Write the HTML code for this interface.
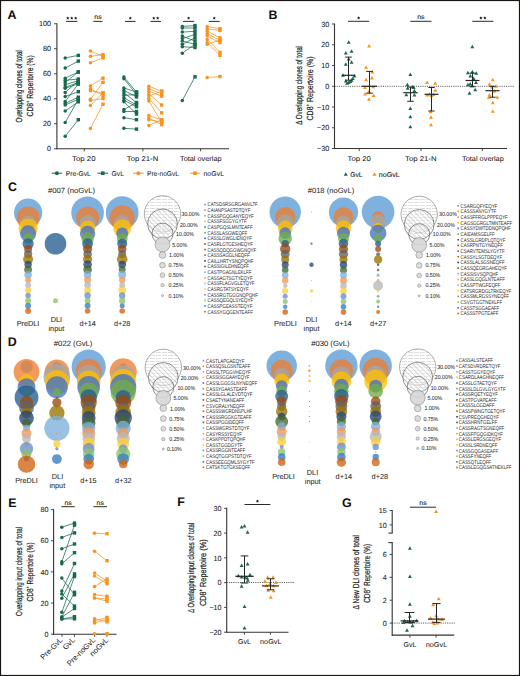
<!DOCTYPE html>
<html><head><meta charset="utf-8"><title>Figure</title>
<style>
html,body{margin:0;padding:0;background:#fff;}
body{width:520px;height:676px;overflow:hidden;}
svg{display:block;}
text{font-family:"Liberation Sans", sans-serif;text-rendering:geometricPrecision;}
</style></head><body>
<svg width="520" height="676" viewBox="0 0 520 676">
<defs>
<pattern id="hh" width="6" height="3" patternUnits="userSpaceOnUse"><rect width="6" height="3" fill="#fff"/><rect y="1.0" width="5" height="0.6" fill="#c8c8c8"/></pattern>
<pattern id="hh2" width="4.5" height="2.7" patternUnits="userSpaceOnUse"><rect y="1.0" width="3.6" height="0.5" fill="#d0d0d0"/></pattern>
<pattern id="hd" width="3.4" height="3" patternUnits="userSpaceOnUse" patternTransform="rotate(-45)"><rect width="3.4" height="3" fill="#fff" fill-opacity="0.45"/><rect width="0.5" height="3" fill="#b0b0b0"/></pattern>
</defs>
<rect x="0" y="0" width="520" height="676" fill="#fff"/>
<text x="7.6" y="18.8" font-size="12.4" font-weight="bold" textLength="8.95" lengthAdjust="spacingAndGlyphs" fill="#0d0d0d">A</text>
<text x="268.6" y="19.3" font-size="12.4" font-weight="bold" textLength="8.95" lengthAdjust="spacingAndGlyphs" fill="#0d0d0d">B</text>
<text x="7.9" y="191.1" font-size="12.4" font-weight="bold" textLength="8.95" lengthAdjust="spacingAndGlyphs" fill="#0d0d0d">C</text>
<text x="7.7" y="345.8" font-size="12.4" font-weight="bold" textLength="8.95" lengthAdjust="spacingAndGlyphs" fill="#0d0d0d">D</text>
<text x="8.2" y="506.8" font-size="12.4" font-weight="bold" textLength="8.27" lengthAdjust="spacingAndGlyphs" fill="#0d0d0d">E</text>
<text x="177.2" y="505.6" font-size="12.4" font-weight="bold" textLength="7.57" lengthAdjust="spacingAndGlyphs" fill="#0d0d0d">F</text>
<text x="341.9" y="506.6" font-size="12.4" font-weight="bold" textLength="9.65" lengthAdjust="spacingAndGlyphs" fill="#0d0d0d">G</text>
<line x1="56.9" y1="23.25" x2="56.9" y2="149.25" stroke="#333" stroke-width="1.1"/>
<line x1="56.4" y1="148.75" x2="229" y2="148.75" stroke="#333" stroke-width="1.1"/>
<line x1="54" y1="148.75" x2="56.9" y2="148.75" stroke="#333" stroke-width="0.9"/>
<text x="51" y="151.4" font-size="7.4" text-anchor="end" textLength="3.99" lengthAdjust="spacingAndGlyphs" fill="#1c1c1c" stroke="#1c1c1c" stroke-width="0.07">0</text>
<line x1="54" y1="123.75" x2="56.9" y2="123.75" stroke="#333" stroke-width="0.9"/>
<text x="51" y="126.4" font-size="7.4" text-anchor="end" textLength="7.98" lengthAdjust="spacingAndGlyphs" fill="#1c1c1c" stroke="#1c1c1c" stroke-width="0.07">20</text>
<line x1="54" y1="98.75" x2="56.9" y2="98.75" stroke="#333" stroke-width="0.9"/>
<text x="51" y="101.4" font-size="7.4" text-anchor="end" textLength="7.98" lengthAdjust="spacingAndGlyphs" fill="#1c1c1c" stroke="#1c1c1c" stroke-width="0.07">40</text>
<line x1="54" y1="73.75" x2="56.9" y2="73.75" stroke="#333" stroke-width="0.9"/>
<text x="51" y="76.4" font-size="7.4" text-anchor="end" textLength="7.98" lengthAdjust="spacingAndGlyphs" fill="#1c1c1c" stroke="#1c1c1c" stroke-width="0.07">60</text>
<line x1="54" y1="48.75" x2="56.9" y2="48.75" stroke="#333" stroke-width="0.9"/>
<text x="51" y="51.4" font-size="7.4" text-anchor="end" textLength="7.98" lengthAdjust="spacingAndGlyphs" fill="#1c1c1c" stroke="#1c1c1c" stroke-width="0.07">80</text>
<line x1="54" y1="23.75" x2="56.9" y2="23.75" stroke="#333" stroke-width="0.9"/>
<text x="51" y="26.4" font-size="7.4" text-anchor="end" textLength="11.98" lengthAdjust="spacingAndGlyphs" fill="#1c1c1c" stroke="#1c1c1c" stroke-width="0.07">100</text>
<line x1="84.3" y1="148.75" x2="84.3" y2="151.35" stroke="#333" stroke-width="0.9"/>
<line x1="142.9" y1="148.75" x2="142.9" y2="151.35" stroke="#333" stroke-width="0.9"/>
<line x1="200.6" y1="148.75" x2="200.6" y2="151.35" stroke="#333" stroke-width="0.9"/>
<text x="83.8" y="161" font-size="7" text-anchor="middle" textLength="23.6" lengthAdjust="spacingAndGlyphs" fill="#1c1c1c" stroke="#1c1c1c" stroke-width="0.05">Top 20</text>
<text x="142.5" y="161" font-size="7" text-anchor="middle" textLength="31.5" lengthAdjust="spacingAndGlyphs" fill="#1c1c1c" stroke="#1c1c1c" stroke-width="0.05">Top 21-N</text>
<text x="200.8" y="161" font-size="7" text-anchor="middle" textLength="41.6" lengthAdjust="spacingAndGlyphs" fill="#1c1c1c" stroke="#1c1c1c" stroke-width="0.05">Total overlap</text>
<text x="21.7" y="86.4" font-size="8.8" text-anchor="middle" textLength="72.4" lengthAdjust="spacingAndGlyphs" transform="rotate(-90 21.7 86.4)" fill="#1c1c1c" stroke="#1c1c1c" stroke-width="0.2">Overlapping clones of total</text>
<text x="32.8" y="85.85" font-size="8.8" text-anchor="middle" textLength="61.1" lengthAdjust="spacingAndGlyphs" transform="rotate(-90 32.8 85.85)" fill="#1c1c1c" stroke="#1c1c1c" stroke-width="0.2">CD8⁺ Repertoire (%)</text>
<line x1="66.1" y1="21.4" x2="77.4" y2="21.4" stroke="#2a2a2a" stroke-width="1"/>
<polygon points="67.8,16.4 68.3,17.41 69.42,17.57 68.61,18.36 68.8,19.48 67.8,18.95 66.8,19.48 66.99,18.36 66.18,17.57 67.3,17.41" fill="#1a1a1a"/>
<polygon points="71.75,16.4 72.25,17.41 73.37,17.57 72.56,18.36 72.75,19.48 71.75,18.95 70.75,19.48 70.94,18.36 70.13,17.57 71.25,17.41" fill="#1a1a1a"/>
<polygon points="75.7,16.4 76.2,17.41 77.32,17.57 76.51,18.36 76.7,19.48 75.7,18.95 74.7,19.48 74.89,18.36 74.08,17.57 75.2,17.41" fill="#1a1a1a"/>
<line x1="93.4" y1="21.4" x2="102.5" y2="21.4" stroke="#2a2a2a" stroke-width="1"/>
<text x="97.95" y="19.4" font-size="6.6" text-anchor="middle" textLength="7.4" lengthAdjust="spacingAndGlyphs" fill="#1c1c1c" stroke="#1c1c1c" stroke-width="0.1">ns</text>
<line x1="125" y1="21.4" x2="135.5" y2="21.4" stroke="#2a2a2a" stroke-width="1"/>
<polygon points="130.25,16.4 130.75,17.41 131.87,17.57 131.06,18.36 131.25,19.48 130.25,18.95 129.25,19.48 129.44,18.36 128.63,17.57 129.75,17.41" fill="#1a1a1a"/>
<line x1="150.5" y1="21.4" x2="161" y2="21.4" stroke="#2a2a2a" stroke-width="1"/>
<polygon points="153.78,16.4 154.27,17.41 155.39,17.57 154.58,18.36 154.77,19.48 153.78,18.95 152.78,19.48 152.97,18.36 152.16,17.57 153.28,17.41" fill="#1a1a1a"/>
<polygon points="157.72,16.4 158.22,17.41 159.34,17.57 158.53,18.36 158.72,19.48 157.72,18.95 156.73,19.48 156.92,18.36 156.11,17.57 157.23,17.41" fill="#1a1a1a"/>
<line x1="183" y1="21.4" x2="194.2" y2="21.4" stroke="#2a2a2a" stroke-width="1"/>
<polygon points="188.6,16.4 189.1,17.41 190.22,17.57 189.41,18.36 189.6,19.48 188.6,18.95 187.6,19.48 187.79,18.36 186.98,17.57 188.1,17.41" fill="#1a1a1a"/>
<line x1="208.8" y1="21.4" x2="219.7" y2="21.4" stroke="#2a2a2a" stroke-width="1"/>
<polygon points="214.25,16.4 214.75,17.41 215.87,17.57 215.06,18.36 215.25,19.48 214.25,18.95 213.25,19.48 213.44,18.36 212.63,17.57 213.75,17.41" fill="#1a1a1a"/>
<line x1="65.2" y1="57.9" x2="78.3" y2="55.4" stroke="#17694f" stroke-width="0.75"/>
<line x1="65.2" y1="68.1" x2="78.3" y2="61.1" stroke="#17694f" stroke-width="0.75"/>
<line x1="65.2" y1="78.2" x2="78.3" y2="72" stroke="#17694f" stroke-width="0.75"/>
<line x1="65.2" y1="80.3" x2="78.3" y2="79" stroke="#17694f" stroke-width="0.75"/>
<line x1="65.2" y1="82.6" x2="78.3" y2="72" stroke="#17694f" stroke-width="0.75"/>
<line x1="65.2" y1="84.7" x2="78.3" y2="80.7" stroke="#17694f" stroke-width="0.75"/>
<line x1="65.2" y1="87.2" x2="78.3" y2="82.6" stroke="#17694f" stroke-width="0.75"/>
<line x1="65.2" y1="88.3" x2="78.3" y2="83.9" stroke="#17694f" stroke-width="0.75"/>
<line x1="65.2" y1="92.4" x2="78.3" y2="80.7" stroke="#17694f" stroke-width="0.75"/>
<line x1="65.2" y1="96.6" x2="78.3" y2="91.7" stroke="#17694f" stroke-width="0.75"/>
<line x1="65.2" y1="101.5" x2="78.3" y2="83.9" stroke="#17694f" stroke-width="0.75"/>
<line x1="65.2" y1="103.4" x2="78.3" y2="97.2" stroke="#17694f" stroke-width="0.75"/>
<line x1="65.2" y1="105" x2="78.3" y2="99.3" stroke="#17694f" stroke-width="0.75"/>
<line x1="65.2" y1="111" x2="78.3" y2="101.8" stroke="#17694f" stroke-width="0.75"/>
<line x1="65.2" y1="122.6" x2="78.3" y2="99.3" stroke="#17694f" stroke-width="0.75"/>
<line x1="65.2" y1="136.3" x2="78.3" y2="119.7" stroke="#17694f" stroke-width="0.75"/>
<circle cx="65.2" cy="57.9" r="1.75" fill="#17694f"/>
<rect x="76.6" y="53.7" width="3.4" height="3.4" fill="#17694f"/>
<circle cx="65.2" cy="68.1" r="1.75" fill="#17694f"/>
<rect x="76.6" y="59.4" width="3.4" height="3.4" fill="#17694f"/>
<circle cx="65.2" cy="78.2" r="1.75" fill="#17694f"/>
<rect x="76.6" y="70.3" width="3.4" height="3.4" fill="#17694f"/>
<circle cx="65.2" cy="80.3" r="1.75" fill="#17694f"/>
<rect x="76.6" y="77.3" width="3.4" height="3.4" fill="#17694f"/>
<circle cx="65.2" cy="82.6" r="1.75" fill="#17694f"/>
<rect x="76.6" y="70.3" width="3.4" height="3.4" fill="#17694f"/>
<circle cx="65.2" cy="84.7" r="1.75" fill="#17694f"/>
<rect x="76.6" y="79" width="3.4" height="3.4" fill="#17694f"/>
<circle cx="65.2" cy="87.2" r="1.75" fill="#17694f"/>
<rect x="76.6" y="80.9" width="3.4" height="3.4" fill="#17694f"/>
<circle cx="65.2" cy="88.3" r="1.75" fill="#17694f"/>
<rect x="76.6" y="82.2" width="3.4" height="3.4" fill="#17694f"/>
<circle cx="65.2" cy="92.4" r="1.75" fill="#17694f"/>
<rect x="76.6" y="79" width="3.4" height="3.4" fill="#17694f"/>
<circle cx="65.2" cy="96.6" r="1.75" fill="#17694f"/>
<rect x="76.6" y="90" width="3.4" height="3.4" fill="#17694f"/>
<circle cx="65.2" cy="101.5" r="1.75" fill="#17694f"/>
<rect x="76.6" y="82.2" width="3.4" height="3.4" fill="#17694f"/>
<circle cx="65.2" cy="103.4" r="1.75" fill="#17694f"/>
<rect x="76.6" y="95.5" width="3.4" height="3.4" fill="#17694f"/>
<circle cx="65.2" cy="105" r="1.75" fill="#17694f"/>
<rect x="76.6" y="97.6" width="3.4" height="3.4" fill="#17694f"/>
<circle cx="65.2" cy="111" r="1.75" fill="#17694f"/>
<rect x="76.6" y="100.1" width="3.4" height="3.4" fill="#17694f"/>
<circle cx="65.2" cy="122.6" r="1.75" fill="#17694f"/>
<rect x="76.6" y="97.6" width="3.4" height="3.4" fill="#17694f"/>
<circle cx="65.2" cy="136.3" r="1.75" fill="#17694f"/>
<rect x="76.6" y="118" width="3.4" height="3.4" fill="#17694f"/>
<line x1="90.4" y1="51.1" x2="103" y2="56.3" stroke="#f7931e" stroke-width="0.75"/>
<line x1="90.4" y1="56.3" x2="103" y2="54.6" stroke="#f7931e" stroke-width="0.75"/>
<line x1="90.4" y1="62.8" x2="103" y2="57.9" stroke="#f7931e" stroke-width="0.75"/>
<line x1="90.4" y1="85.9" x2="103" y2="78.2" stroke="#f7931e" stroke-width="0.75"/>
<line x1="90.4" y1="88.8" x2="103" y2="95.3" stroke="#f7931e" stroke-width="0.75"/>
<line x1="90.4" y1="90.7" x2="103" y2="92.8" stroke="#f7931e" stroke-width="0.75"/>
<line x1="90.4" y1="99.3" x2="103" y2="82.3" stroke="#f7931e" stroke-width="0.75"/>
<line x1="90.4" y1="100.5" x2="103" y2="98.5" stroke="#f7931e" stroke-width="0.75"/>
<line x1="90.4" y1="105.4" x2="103" y2="92.8" stroke="#f7931e" stroke-width="0.75"/>
<line x1="90.4" y1="128.6" x2="103" y2="104.2" stroke="#f7931e" stroke-width="0.75"/>
<circle cx="90.4" cy="51.1" r="1.75" fill="#f7931e"/>
<rect x="101.3" y="54.6" width="3.4" height="3.4" fill="#f7931e"/>
<circle cx="90.4" cy="56.3" r="1.75" fill="#f7931e"/>
<rect x="101.3" y="52.9" width="3.4" height="3.4" fill="#f7931e"/>
<circle cx="90.4" cy="62.8" r="1.75" fill="#f7931e"/>
<rect x="101.3" y="56.2" width="3.4" height="3.4" fill="#f7931e"/>
<circle cx="90.4" cy="85.9" r="1.75" fill="#f7931e"/>
<rect x="101.3" y="76.5" width="3.4" height="3.4" fill="#f7931e"/>
<circle cx="90.4" cy="88.8" r="1.75" fill="#f7931e"/>
<rect x="101.3" y="93.6" width="3.4" height="3.4" fill="#f7931e"/>
<circle cx="90.4" cy="90.7" r="1.75" fill="#f7931e"/>
<rect x="101.3" y="91.1" width="3.4" height="3.4" fill="#f7931e"/>
<circle cx="90.4" cy="99.3" r="1.75" fill="#f7931e"/>
<rect x="101.3" y="80.6" width="3.4" height="3.4" fill="#f7931e"/>
<circle cx="90.4" cy="100.5" r="1.75" fill="#f7931e"/>
<rect x="101.3" y="96.8" width="3.4" height="3.4" fill="#f7931e"/>
<circle cx="90.4" cy="105.4" r="1.75" fill="#f7931e"/>
<rect x="101.3" y="91.1" width="3.4" height="3.4" fill="#f7931e"/>
<circle cx="90.4" cy="128.6" r="1.75" fill="#f7931e"/>
<rect x="101.3" y="102.5" width="3.4" height="3.4" fill="#f7931e"/>
<line x1="123.9" y1="77.1" x2="136.5" y2="92" stroke="#17694f" stroke-width="0.75"/>
<line x1="123.9" y1="78.7" x2="136.5" y2="94.5" stroke="#17694f" stroke-width="0.75"/>
<line x1="123.9" y1="88" x2="136.5" y2="92" stroke="#17694f" stroke-width="0.75"/>
<line x1="123.9" y1="90.4" x2="136.5" y2="96.9" stroke="#17694f" stroke-width="0.75"/>
<line x1="123.9" y1="92.8" x2="136.5" y2="102.6" stroke="#17694f" stroke-width="0.75"/>
<line x1="123.9" y1="95.3" x2="136.5" y2="94.5" stroke="#17694f" stroke-width="0.75"/>
<line x1="123.9" y1="97.7" x2="136.5" y2="105" stroke="#17694f" stroke-width="0.75"/>
<line x1="123.9" y1="100.2" x2="136.5" y2="106.7" stroke="#17694f" stroke-width="0.75"/>
<line x1="123.9" y1="101.8" x2="136.5" y2="114" stroke="#17694f" stroke-width="0.75"/>
<line x1="123.9" y1="109.6" x2="136.5" y2="102.6" stroke="#17694f" stroke-width="0.75"/>
<line x1="123.9" y1="111.5" x2="136.5" y2="111.5" stroke="#17694f" stroke-width="0.75"/>
<line x1="123.9" y1="117.7" x2="136.5" y2="119.7" stroke="#17694f" stroke-width="0.75"/>
<line x1="123.9" y1="128.3" x2="136.5" y2="129.1" stroke="#17694f" stroke-width="0.75"/>
<circle cx="123.9" cy="77.1" r="1.75" fill="#17694f"/>
<rect x="134.8" y="90.3" width="3.4" height="3.4" fill="#17694f"/>
<circle cx="123.9" cy="78.7" r="1.75" fill="#17694f"/>
<rect x="134.8" y="92.8" width="3.4" height="3.4" fill="#17694f"/>
<circle cx="123.9" cy="88" r="1.75" fill="#17694f"/>
<rect x="134.8" y="90.3" width="3.4" height="3.4" fill="#17694f"/>
<circle cx="123.9" cy="90.4" r="1.75" fill="#17694f"/>
<rect x="134.8" y="95.2" width="3.4" height="3.4" fill="#17694f"/>
<circle cx="123.9" cy="92.8" r="1.75" fill="#17694f"/>
<rect x="134.8" y="100.9" width="3.4" height="3.4" fill="#17694f"/>
<circle cx="123.9" cy="95.3" r="1.75" fill="#17694f"/>
<rect x="134.8" y="92.8" width="3.4" height="3.4" fill="#17694f"/>
<circle cx="123.9" cy="97.7" r="1.75" fill="#17694f"/>
<rect x="134.8" y="103.3" width="3.4" height="3.4" fill="#17694f"/>
<circle cx="123.9" cy="100.2" r="1.75" fill="#17694f"/>
<rect x="134.8" y="105" width="3.4" height="3.4" fill="#17694f"/>
<circle cx="123.9" cy="101.8" r="1.75" fill="#17694f"/>
<rect x="134.8" y="112.3" width="3.4" height="3.4" fill="#17694f"/>
<circle cx="123.9" cy="109.6" r="1.75" fill="#17694f"/>
<rect x="134.8" y="100.9" width="3.4" height="3.4" fill="#17694f"/>
<circle cx="123.9" cy="111.5" r="1.75" fill="#17694f"/>
<rect x="134.8" y="109.8" width="3.4" height="3.4" fill="#17694f"/>
<circle cx="123.9" cy="117.7" r="1.75" fill="#17694f"/>
<rect x="134.8" y="118" width="3.4" height="3.4" fill="#17694f"/>
<circle cx="123.9" cy="128.3" r="1.75" fill="#17694f"/>
<rect x="134.8" y="127.4" width="3.4" height="3.4" fill="#17694f"/>
<line x1="148.8" y1="86.3" x2="161.7" y2="91.2" stroke="#f7931e" stroke-width="0.75"/>
<line x1="148.8" y1="88.8" x2="161.7" y2="93.7" stroke="#f7931e" stroke-width="0.75"/>
<line x1="148.8" y1="91.2" x2="161.7" y2="96.1" stroke="#f7931e" stroke-width="0.75"/>
<line x1="148.8" y1="93.7" x2="161.7" y2="105" stroke="#f7931e" stroke-width="0.75"/>
<line x1="148.8" y1="96.1" x2="161.7" y2="91.2" stroke="#f7931e" stroke-width="0.75"/>
<line x1="148.8" y1="98.5" x2="161.7" y2="112.8" stroke="#f7931e" stroke-width="0.75"/>
<line x1="148.8" y1="101" x2="161.7" y2="122.1" stroke="#f7931e" stroke-width="0.75"/>
<line x1="148.8" y1="115.6" x2="161.7" y2="119.7" stroke="#f7931e" stroke-width="0.75"/>
<line x1="148.8" y1="118" x2="161.7" y2="124.6" stroke="#f7931e" stroke-width="0.75"/>
<line x1="148.8" y1="119.7" x2="161.7" y2="122.1" stroke="#f7931e" stroke-width="0.75"/>
<line x1="148.8" y1="125.4" x2="161.7" y2="119.7" stroke="#f7931e" stroke-width="0.75"/>
<circle cx="148.8" cy="86.3" r="1.75" fill="#f7931e"/>
<rect x="160" y="89.5" width="3.4" height="3.4" fill="#f7931e"/>
<circle cx="148.8" cy="88.8" r="1.75" fill="#f7931e"/>
<rect x="160" y="92" width="3.4" height="3.4" fill="#f7931e"/>
<circle cx="148.8" cy="91.2" r="1.75" fill="#f7931e"/>
<rect x="160" y="94.4" width="3.4" height="3.4" fill="#f7931e"/>
<circle cx="148.8" cy="93.7" r="1.75" fill="#f7931e"/>
<rect x="160" y="103.3" width="3.4" height="3.4" fill="#f7931e"/>
<circle cx="148.8" cy="96.1" r="1.75" fill="#f7931e"/>
<rect x="160" y="89.5" width="3.4" height="3.4" fill="#f7931e"/>
<circle cx="148.8" cy="98.5" r="1.75" fill="#f7931e"/>
<rect x="160" y="111.1" width="3.4" height="3.4" fill="#f7931e"/>
<circle cx="148.8" cy="101" r="1.75" fill="#f7931e"/>
<rect x="160" y="120.4" width="3.4" height="3.4" fill="#f7931e"/>
<circle cx="148.8" cy="115.6" r="1.75" fill="#f7931e"/>
<rect x="160" y="118" width="3.4" height="3.4" fill="#f7931e"/>
<circle cx="148.8" cy="118" r="1.75" fill="#f7931e"/>
<rect x="160" y="122.9" width="3.4" height="3.4" fill="#f7931e"/>
<circle cx="148.8" cy="119.7" r="1.75" fill="#f7931e"/>
<rect x="160" y="120.4" width="3.4" height="3.4" fill="#f7931e"/>
<circle cx="148.8" cy="125.4" r="1.75" fill="#f7931e"/>
<rect x="160" y="118" width="3.4" height="3.4" fill="#f7931e"/>
<line x1="182.3" y1="26.4" x2="195" y2="25.6" stroke="#17694f" stroke-width="0.75"/>
<line x1="182.3" y1="28" x2="195" y2="28" stroke="#17694f" stroke-width="0.75"/>
<line x1="182.3" y1="32.1" x2="195" y2="31.3" stroke="#17694f" stroke-width="0.75"/>
<line x1="182.3" y1="36.1" x2="195" y2="41" stroke="#17694f" stroke-width="0.75"/>
<line x1="182.3" y1="38.6" x2="195" y2="34.5" stroke="#17694f" stroke-width="0.75"/>
<line x1="182.3" y1="41" x2="195" y2="44.3" stroke="#17694f" stroke-width="0.75"/>
<line x1="182.3" y1="44.3" x2="195" y2="37.8" stroke="#17694f" stroke-width="0.75"/>
<line x1="182.3" y1="46.7" x2="195" y2="47.5" stroke="#17694f" stroke-width="0.75"/>
<line x1="182.3" y1="53.2" x2="195" y2="44.3" stroke="#17694f" stroke-width="0.75"/>
<line x1="182.3" y1="100.4" x2="195" y2="76.8" stroke="#17694f" stroke-width="0.75"/>
<circle cx="182.3" cy="26.4" r="1.75" fill="#17694f"/>
<rect x="193.3" y="23.9" width="3.4" height="3.4" fill="#17694f"/>
<circle cx="182.3" cy="28" r="1.75" fill="#17694f"/>
<rect x="193.3" y="26.3" width="3.4" height="3.4" fill="#17694f"/>
<circle cx="182.3" cy="32.1" r="1.75" fill="#17694f"/>
<rect x="193.3" y="29.6" width="3.4" height="3.4" fill="#17694f"/>
<circle cx="182.3" cy="36.1" r="1.75" fill="#17694f"/>
<rect x="193.3" y="39.3" width="3.4" height="3.4" fill="#17694f"/>
<circle cx="182.3" cy="38.6" r="1.75" fill="#17694f"/>
<rect x="193.3" y="32.8" width="3.4" height="3.4" fill="#17694f"/>
<circle cx="182.3" cy="41" r="1.75" fill="#17694f"/>
<rect x="193.3" y="42.6" width="3.4" height="3.4" fill="#17694f"/>
<circle cx="182.3" cy="44.3" r="1.75" fill="#17694f"/>
<rect x="193.3" y="36.1" width="3.4" height="3.4" fill="#17694f"/>
<circle cx="182.3" cy="46.7" r="1.75" fill="#17694f"/>
<rect x="193.3" y="45.8" width="3.4" height="3.4" fill="#17694f"/>
<circle cx="182.3" cy="53.2" r="1.75" fill="#17694f"/>
<rect x="193.3" y="42.6" width="3.4" height="3.4" fill="#17694f"/>
<circle cx="182.3" cy="100.4" r="1.75" fill="#17694f"/>
<rect x="193.3" y="75.1" width="3.4" height="3.4" fill="#17694f"/>
<line x1="207.2" y1="26.4" x2="220" y2="28.8" stroke="#f7931e" stroke-width="0.75"/>
<line x1="207.2" y1="28.8" x2="220" y2="30.4" stroke="#f7931e" stroke-width="0.75"/>
<line x1="207.2" y1="31.3" x2="220" y2="37.8" stroke="#f7931e" stroke-width="0.75"/>
<line x1="207.2" y1="33.7" x2="220" y2="40.2" stroke="#f7931e" stroke-width="0.75"/>
<line x1="207.2" y1="36.1" x2="220" y2="42.6" stroke="#f7931e" stroke-width="0.75"/>
<line x1="207.2" y1="39.4" x2="220" y2="52.4" stroke="#f7931e" stroke-width="0.75"/>
<line x1="207.2" y1="42.6" x2="220" y2="55.3" stroke="#f7931e" stroke-width="0.75"/>
<line x1="207.2" y1="44.3" x2="220" y2="40.2" stroke="#f7931e" stroke-width="0.75"/>
<line x1="207.2" y1="77.6" x2="220" y2="76.5" stroke="#f7931e" stroke-width="0.75"/>
<circle cx="207.2" cy="26.4" r="1.75" fill="#f7931e"/>
<rect x="218.3" y="27.1" width="3.4" height="3.4" fill="#f7931e"/>
<circle cx="207.2" cy="28.8" r="1.75" fill="#f7931e"/>
<rect x="218.3" y="28.7" width="3.4" height="3.4" fill="#f7931e"/>
<circle cx="207.2" cy="31.3" r="1.75" fill="#f7931e"/>
<rect x="218.3" y="36.1" width="3.4" height="3.4" fill="#f7931e"/>
<circle cx="207.2" cy="33.7" r="1.75" fill="#f7931e"/>
<rect x="218.3" y="38.5" width="3.4" height="3.4" fill="#f7931e"/>
<circle cx="207.2" cy="36.1" r="1.75" fill="#f7931e"/>
<rect x="218.3" y="40.9" width="3.4" height="3.4" fill="#f7931e"/>
<circle cx="207.2" cy="39.4" r="1.75" fill="#f7931e"/>
<rect x="218.3" y="50.7" width="3.4" height="3.4" fill="#f7931e"/>
<circle cx="207.2" cy="42.6" r="1.75" fill="#f7931e"/>
<rect x="218.3" y="53.6" width="3.4" height="3.4" fill="#f7931e"/>
<circle cx="207.2" cy="44.3" r="1.75" fill="#f7931e"/>
<rect x="218.3" y="38.5" width="3.4" height="3.4" fill="#f7931e"/>
<circle cx="207.2" cy="77.6" r="1.75" fill="#f7931e"/>
<rect x="218.3" y="74.8" width="3.4" height="3.4" fill="#f7931e"/>
<line x1="51.6" y1="173.2" x2="62.2" y2="173.2" stroke="#17694f" stroke-width="1"/>
<circle cx="56.9" cy="173.2" r="1.95" fill="#17694f"/>
<text x="65.8" y="175.7" font-size="7" textLength="25" lengthAdjust="spacingAndGlyphs" fill="#1c1c1c" stroke="#1c1c1c" stroke-width="0.04">Pre-GvL</text>
<line x1="97.5" y1="173.2" x2="108" y2="173.2" stroke="#17694f" stroke-width="1"/>
<rect x="100.95" y="171.4" width="3.6" height="3.6" fill="#17694f"/>
<text x="111.5" y="175.7" font-size="7" textLength="12.5" lengthAdjust="spacingAndGlyphs" fill="#1c1c1c" stroke="#1c1c1c" stroke-width="0.04">GvL</text>
<line x1="133" y1="173.2" x2="143.7" y2="173.2" stroke="#f7931e" stroke-width="1"/>
<circle cx="138.35" cy="173.2" r="1.95" fill="#f7931e"/>
<text x="147" y="175.7" font-size="7" textLength="32" lengthAdjust="spacingAndGlyphs" fill="#1c1c1c" stroke="#1c1c1c" stroke-width="0.04">Pre-noGvL</text>
<line x1="190" y1="173.2" x2="200" y2="173.2" stroke="#f7931e" stroke-width="1"/>
<rect x="193.2" y="171.4" width="3.6" height="3.6" fill="#f7931e"/>
<text x="203.5" y="175.7" font-size="7" textLength="20.5" lengthAdjust="spacingAndGlyphs" fill="#1c1c1c" stroke="#1c1c1c" stroke-width="0.04">noGvL</text>
<line x1="334.5" y1="23.5" x2="334.5" y2="149" stroke="#333" stroke-width="1.1"/>
<line x1="334" y1="148.5" x2="507" y2="148.5" stroke="#333" stroke-width="1.1"/>
<line x1="332" y1="24" x2="334.5" y2="24" stroke="#333" stroke-width="0.9"/>
<text x="329.3" y="26.65" font-size="7.4" text-anchor="end" textLength="7.98" lengthAdjust="spacingAndGlyphs" fill="#1c1c1c" stroke="#1c1c1c" stroke-width="0.07">30</text>
<line x1="332" y1="44.75" x2="334.5" y2="44.75" stroke="#333" stroke-width="0.9"/>
<text x="329.3" y="47.4" font-size="7.4" text-anchor="end" textLength="7.98" lengthAdjust="spacingAndGlyphs" fill="#1c1c1c" stroke="#1c1c1c" stroke-width="0.07">20</text>
<line x1="332" y1="65.5" x2="334.5" y2="65.5" stroke="#333" stroke-width="0.9"/>
<text x="329.3" y="68.15" font-size="7.4" text-anchor="end" textLength="7.98" lengthAdjust="spacingAndGlyphs" fill="#1c1c1c" stroke="#1c1c1c" stroke-width="0.07">10</text>
<line x1="332" y1="86.25" x2="334.5" y2="86.25" stroke="#333" stroke-width="0.9"/>
<text x="329.3" y="88.9" font-size="7.4" text-anchor="end" textLength="3.99" lengthAdjust="spacingAndGlyphs" fill="#1c1c1c" stroke="#1c1c1c" stroke-width="0.07">0</text>
<line x1="332" y1="107" x2="334.5" y2="107" stroke="#333" stroke-width="0.9"/>
<text x="329.3" y="109.65" font-size="7.4" text-anchor="end" textLength="12.18" lengthAdjust="spacingAndGlyphs" fill="#1c1c1c" stroke="#1c1c1c" stroke-width="0.07">−10</text>
<line x1="332" y1="127.75" x2="334.5" y2="127.75" stroke="#333" stroke-width="0.9"/>
<text x="329.3" y="130.4" font-size="7.4" text-anchor="end" textLength="12.18" lengthAdjust="spacingAndGlyphs" fill="#1c1c1c" stroke="#1c1c1c" stroke-width="0.07">−20</text>
<line x1="332" y1="148.5" x2="334.5" y2="148.5" stroke="#333" stroke-width="0.9"/>
<text x="329.3" y="151.15" font-size="7.4" text-anchor="end" textLength="12.18" lengthAdjust="spacingAndGlyphs" fill="#1c1c1c" stroke="#1c1c1c" stroke-width="0.07">−30</text>
<line x1="359.2" y1="148.5" x2="359.2" y2="151.1" stroke="#333" stroke-width="0.9"/>
<line x1="421" y1="148.5" x2="421" y2="151.1" stroke="#333" stroke-width="0.9"/>
<line x1="482.3" y1="148.5" x2="482.3" y2="151.1" stroke="#333" stroke-width="0.9"/>
<text x="359.2" y="160.8" font-size="7" text-anchor="middle" textLength="23.3" lengthAdjust="spacingAndGlyphs" fill="#1c1c1c" stroke="#1c1c1c" stroke-width="0.05">Top 20</text>
<text x="420.8" y="160.8" font-size="7" text-anchor="middle" textLength="31.5" lengthAdjust="spacingAndGlyphs" fill="#1c1c1c" stroke="#1c1c1c" stroke-width="0.05">Top 21-N</text>
<text x="482.9" y="160.8" font-size="7" text-anchor="middle" textLength="41.8" lengthAdjust="spacingAndGlyphs" fill="#1c1c1c" stroke="#1c1c1c" stroke-width="0.05">Total overlap</text>
<line x1="334.5" y1="86.3" x2="514" y2="86.3" stroke="#333" stroke-width="0.8" stroke-dasharray="1.1 1.1"/>
<text x="301.7" y="85.35" font-size="8.8" text-anchor="middle" textLength="78.7" lengthAdjust="spacingAndGlyphs" transform="rotate(-90 301.7 85.35)" fill="#1c1c1c" stroke="#1c1c1c" stroke-width="0.2">Δ Overlapping clones of total</text>
<text x="312.8" y="88.45" font-size="8.8" text-anchor="middle" textLength="64.1" lengthAdjust="spacingAndGlyphs" transform="rotate(-90 312.8 88.45)" fill="#1c1c1c" stroke="#1c1c1c" stroke-width="0.2">CD8⁺ Repertoire (%)</text>
<line x1="348" y1="21.3" x2="369.25" y2="21.3" stroke="#2a2a2a" stroke-width="1"/>
<polygon points="358.62,16.3 359.12,17.31 360.24,17.47 359.43,18.26 359.62,19.38 358.62,18.85 357.63,19.38 357.82,18.26 357.01,17.47 358.13,17.31" fill="#1a1a1a"/>
<line x1="410.3" y1="21.3" x2="431.5" y2="21.3" stroke="#2a2a2a" stroke-width="1"/>
<text x="420.9" y="19.3" font-size="6.6" text-anchor="middle" textLength="7.4" lengthAdjust="spacingAndGlyphs" fill="#1c1c1c" stroke="#1c1c1c" stroke-width="0.1">ns</text>
<line x1="472.3" y1="21.3" x2="493.4" y2="21.3" stroke="#2a2a2a" stroke-width="1"/>
<polygon points="480.88,16.3 481.37,17.31 482.49,17.47 481.68,18.26 481.87,19.38 480.88,18.85 479.88,19.38 480.07,18.26 479.26,17.47 480.38,17.31" fill="#1a1a1a"/>
<polygon points="484.83,16.3 485.32,17.31 486.44,17.47 485.63,18.26 485.82,19.38 484.83,18.85 483.83,19.38 484.02,18.26 483.21,17.47 484.33,17.31" fill="#1a1a1a"/>
<path d="M348.7 40.36L350.65 43.87L346.75 43.87Z" fill="#17694f"/>
<path d="M345.8 50.96L347.75 54.47L343.85 54.47Z" fill="#17694f"/>
<path d="M351.6 49.36L353.55 52.87L349.65 52.87Z" fill="#17694f"/>
<path d="M348.7 56.96L350.65 60.47L346.75 60.47Z" fill="#17694f"/>
<path d="M345.8 62.16L347.75 65.67L343.85 65.67Z" fill="#17694f"/>
<path d="M351.6 60.26L353.55 63.77L349.65 63.77Z" fill="#17694f"/>
<path d="M343 73.26L344.95 76.77L341.05 76.77Z" fill="#17694f"/>
<path d="M354.4 74.06L356.35 77.57L352.45 77.57Z" fill="#17694f"/>
<path d="M345.8 78.96L347.75 82.47L343.85 82.47Z" fill="#17694f"/>
<path d="M351.6 78.16L353.55 81.67L349.65 81.67Z" fill="#17694f"/>
<path d="M348.7 80.56L350.65 84.07L346.75 84.07Z" fill="#17694f"/>
<path d="M347 81.36L348.95 84.87L345.05 84.87Z" fill="#17694f"/>
<path d="M350.3 79.46L352.25 82.97L348.35 82.97Z" fill="#17694f"/>
<path d="M352.8 76.46L354.75 79.97L350.85 79.97Z" fill="#17694f"/>
<path d="M369 43.96L370.95 47.47L367.05 47.47Z" fill="#f7931e"/>
<path d="M366.1 65.16L368.05 68.67L364.15 68.67Z" fill="#f7931e"/>
<path d="M372.3 69.96L374.25 73.47L370.35 73.47Z" fill="#f7931e"/>
<path d="M366.1 77.76L368.05 81.27L364.15 81.27Z" fill="#f7931e"/>
<path d="M372 75.96L373.95 79.47L370.05 79.47Z" fill="#f7931e"/>
<path d="M365 85.46L366.95 88.97L363.05 88.97Z" fill="#f7931e"/>
<path d="M373.1 84.66L375.05 88.17L371.15 88.17Z" fill="#f7931e"/>
<path d="M369 89.46L370.95 92.97L367.05 92.97Z" fill="#f7931e"/>
<path d="M365 91.96L366.95 95.47L363.05 95.47Z" fill="#f7931e"/>
<path d="M373.6 93.56L375.55 97.07L371.65 97.07Z" fill="#f7931e"/>
<path d="M369 97.26L370.95 100.77L367.05 100.77Z" fill="#f7931e"/>
<path d="M410.3 72.46L412.25 75.97L408.35 75.97Z" fill="#17694f"/>
<path d="M407.4 82.66L409.35 86.17L405.45 86.17Z" fill="#17694f"/>
<path d="M413.6 85.46L415.55 88.97L411.65 88.97Z" fill="#17694f"/>
<path d="M414.4 88.66L416.35 92.17L412.45 92.17Z" fill="#17694f"/>
<path d="M406.3 92.76L408.25 96.27L404.35 96.27Z" fill="#17694f"/>
<path d="M414.4 93.06L416.35 96.57L412.45 96.57Z" fill="#17694f"/>
<path d="M410.3 106.56L412.25 110.07L408.35 110.07Z" fill="#17694f"/>
<path d="M410.3 114.66L412.25 118.17L408.35 118.17Z" fill="#17694f"/>
<path d="M410.3 124.76L412.25 128.27L408.35 128.27Z" fill="#17694f"/>
<path d="M412.8 84.66L414.75 88.17L410.85 88.17Z" fill="#17694f"/>
<path d="M407.6 86.26L409.55 89.77L405.65 89.77Z" fill="#17694f"/>
<path d="M427.1 80.56L429.05 84.07L425.15 84.07Z" fill="#f7931e"/>
<path d="M435.2 81.36L437.15 84.87L433.25 84.87Z" fill="#f7931e"/>
<path d="M435.2 88.16L437.15 91.67L433.25 91.67Z" fill="#f7931e"/>
<path d="M427.1 93.06L429.05 96.57L425.15 96.57Z" fill="#f7931e"/>
<path d="M431.5 93.56L433.45 97.07L429.55 97.07Z" fill="#f7931e"/>
<path d="M430.7 109.86L432.65 113.37L428.75 113.37Z" fill="#f7931e"/>
<path d="M431 115.16L432.95 118.67L429.05 118.67Z" fill="#f7931e"/>
<path d="M431 122.86L432.95 126.37L429.05 126.37Z" fill="#f7931e"/>
<path d="M429.5 92.26L431.45 95.77L427.55 95.77Z" fill="#f7931e"/>
<path d="M433.5 92.56L435.45 96.07L431.55 96.07Z" fill="#f7931e"/>
<path d="M472.3 44.76L474.25 48.27L470.35 48.27Z" fill="#17694f"/>
<path d="M467.9 70.76L469.85 74.27L465.95 74.27Z" fill="#17694f"/>
<path d="M472.3 69.66L474.25 73.17L470.35 73.17Z" fill="#17694f"/>
<path d="M476.3 71.26L478.25 74.77L474.35 74.77Z" fill="#17694f"/>
<path d="M470.3 74.06L472.25 77.57L468.35 77.57Z" fill="#17694f"/>
<path d="M473.6 76.46L475.55 79.97L471.65 79.97Z" fill="#17694f"/>
<path d="M476 80.56L477.95 84.07L474.05 84.07Z" fill="#17694f"/>
<path d="M467.9 82.66L469.85 86.17L465.95 86.17Z" fill="#17694f"/>
<path d="M472 83.86L473.95 87.37L470.05 87.37Z" fill="#17694f"/>
<path d="M475.2 87.86L477.15 91.37L473.25 91.37Z" fill="#17694f"/>
<path d="M469.5 91.16L471.45 94.67L467.55 94.67Z" fill="#17694f"/>
<path d="M470.2 81.96L472.15 85.47L468.25 85.47Z" fill="#17694f"/>
<path d="M492.8 77.76L494.75 81.27L490.85 81.27Z" fill="#f7931e"/>
<path d="M489.5 82.16L491.45 85.67L487.55 85.67Z" fill="#f7931e"/>
<path d="M496 84.26L497.95 87.77L494.05 87.77Z" fill="#f7931e"/>
<path d="M492 84.96L493.95 88.47L490.05 88.47Z" fill="#f7931e"/>
<path d="M489.5 93.06L491.45 96.57L487.55 96.57Z" fill="#f7931e"/>
<path d="M497.2 95.16L499.15 98.67L495.25 98.67Z" fill="#f7931e"/>
<path d="M488.7 95.16L490.65 98.67L486.75 98.67Z" fill="#f7931e"/>
<path d="M492.8 100.86L494.75 104.37L490.85 104.37Z" fill="#f7931e"/>
<path d="M492.8 109.36L494.75 112.87L490.85 112.87Z" fill="#f7931e"/>
<path d="M494.5 88.96L496.45 92.47L492.55 92.47Z" fill="#f7931e"/>
<line x1="348.5" y1="57.1" x2="348.5" y2="80.2" stroke="#262626" stroke-width="1"/>
<line x1="341.75" y1="75.3" x2="355.25" y2="75.3" stroke="#262626" stroke-width="1.2"/>
<line x1="345.2" y1="57.1" x2="351.8" y2="57.1" stroke="#262626" stroke-width="1"/>
<line x1="345.2" y1="80.2" x2="351.8" y2="80.2" stroke="#262626" stroke-width="1"/>
<line x1="369.5" y1="71.4" x2="369.5" y2="93.2" stroke="#262626" stroke-width="1"/>
<line x1="362" y1="86.3" x2="377" y2="86.3" stroke="#262626" stroke-width="1.2"/>
<line x1="366.2" y1="71.4" x2="372.8" y2="71.4" stroke="#262626" stroke-width="1"/>
<line x1="366.2" y1="93.2" x2="372.8" y2="93.2" stroke="#262626" stroke-width="1"/>
<line x1="410.5" y1="87" x2="410.5" y2="101.3" stroke="#262626" stroke-width="1"/>
<line x1="403.35" y1="92.7" x2="417.65" y2="92.7" stroke="#262626" stroke-width="1.2"/>
<line x1="407.2" y1="87" x2="413.8" y2="87" stroke="#262626" stroke-width="1"/>
<line x1="407.2" y1="101.3" x2="413.8" y2="101.3" stroke="#262626" stroke-width="1"/>
<line x1="431.5" y1="87.5" x2="431.5" y2="111" stroke="#262626" stroke-width="1"/>
<line x1="424.55" y1="94.3" x2="438.45" y2="94.3" stroke="#262626" stroke-width="1.2"/>
<line x1="428.35" y1="87.5" x2="434.65" y2="87.5" stroke="#262626" stroke-width="1"/>
<line x1="428.35" y1="111" x2="434.65" y2="111" stroke="#262626" stroke-width="1"/>
<line x1="472.5" y1="73.2" x2="472.5" y2="86.7" stroke="#262626" stroke-width="1"/>
<line x1="465.55" y1="80.5" x2="479.45" y2="80.5" stroke="#262626" stroke-width="1.2"/>
<line x1="469.5" y1="73.2" x2="475.5" y2="73.2" stroke="#262626" stroke-width="1"/>
<line x1="469.5" y1="86.7" x2="475.5" y2="86.7" stroke="#262626" stroke-width="1"/>
<line x1="492.5" y1="86.3" x2="492.5" y2="97.2" stroke="#262626" stroke-width="1"/>
<line x1="485.45" y1="90.7" x2="499.55" y2="90.7" stroke="#262626" stroke-width="1.2"/>
<line x1="489.45" y1="86.3" x2="495.55" y2="86.3" stroke="#262626" stroke-width="1"/>
<line x1="489.45" y1="97.2" x2="495.55" y2="97.2" stroke="#262626" stroke-width="1"/>
<path d="M345.75 172.16L347.8 175.85L343.7 175.85Z" fill="#17694f"/>
<text x="350.2" y="177" font-size="7" textLength="12.3" lengthAdjust="spacingAndGlyphs" fill="#1c1c1c" stroke="#1c1c1c" stroke-width="0.1">GvL</text>
<path d="M374.5 172.16L376.55 175.85L372.45 175.85Z" fill="#f7931e"/>
<text x="378.8" y="177" font-size="7" textLength="20.9" lengthAdjust="spacingAndGlyphs" fill="#1c1c1c" stroke="#1c1c1c" stroke-width="0.1">noGvL</text>
<circle cx="28.1" cy="212.7" r="14.1" fill="#5B9BD5" fill-opacity="0.78"/>
<circle cx="28.1" cy="217.88" r="11.4" fill="#ED7D31" fill-opacity="0.78"/>
<circle cx="28.1" cy="223.05" r="7.4" fill="#A5A5A5" fill-opacity="0.78"/>
<circle cx="28.1" cy="228.22" r="9.7" fill="#FFC000" fill-opacity="0.78"/>
<circle cx="28.1" cy="233.4" r="8.1" fill="#4472C4" fill-opacity="0.78"/>
<circle cx="28.1" cy="238.57" r="5.2" fill="#70AD47" fill-opacity="0.78"/>
<circle cx="28.1" cy="243.75" r="5.6" fill="#255E91" fill-opacity="0.78"/>
<circle cx="28.1" cy="248.92" r="4" fill="#9E480E" fill-opacity="0.78"/>
<circle cx="28.1" cy="254.1" r="4.2" fill="#636363" fill-opacity="0.78"/>
<circle cx="28.1" cy="259.27" r="5" fill="#997300" fill-opacity="0.78"/>
<circle cx="28.1" cy="264.45" r="3.7" fill="#264478" fill-opacity="0.78"/>
<circle cx="28.1" cy="269.62" r="3.9" fill="#43682B" fill-opacity="0.78"/>
<circle cx="28.1" cy="274.8" r="3.8" fill="#7CAFDD" fill-opacity="0.78"/>
<circle cx="28.1" cy="279.97" r="3" fill="#F1975A" fill-opacity="0.78"/>
<circle cx="28.1" cy="285.15" r="3" fill="#B7B7B7" fill-opacity="0.78"/>
<circle cx="28.1" cy="290.32" r="3" fill="#FFCD33" fill-opacity="0.78"/>
<circle cx="28.1" cy="295.5" r="2.8" fill="#698ED0" fill-opacity="0.78"/>
<circle cx="28.1" cy="300.67" r="3" fill="#8CC168" fill-opacity="0.78"/>
<circle cx="28.1" cy="305.85" r="3" fill="#327DC2" fill-opacity="0.78"/>
<circle cx="28.1" cy="311.02" r="3" fill="#D26012" fill-opacity="0.78"/>
<circle cx="55.5" cy="243.75" r="10.8" fill="#255E91" fill-opacity="0.78"/>
<circle cx="55.5" cy="300.67" r="2.5" fill="#8CC168" fill-opacity="0.78"/>
<circle cx="87.6" cy="212.7" r="16.3" fill="#5B9BD5" fill-opacity="0.78"/>
<circle cx="87.6" cy="217.88" r="11.5" fill="#ED7D31" fill-opacity="0.78"/>
<circle cx="87.6" cy="223.05" r="8.1" fill="#A5A5A5" fill-opacity="0.78"/>
<circle cx="87.6" cy="228.22" r="7.7" fill="#FFC000" fill-opacity="0.78"/>
<circle cx="87.6" cy="233.4" r="7.7" fill="#4472C4" fill-opacity="0.78"/>
<circle cx="87.6" cy="238.57" r="6.2" fill="#70AD47" fill-opacity="0.78"/>
<circle cx="87.6" cy="243.75" r="5.4" fill="#255E91" fill-opacity="0.78"/>
<circle cx="87.6" cy="248.92" r="4.6" fill="#9E480E" fill-opacity="0.78"/>
<circle cx="87.6" cy="254.1" r="4.3" fill="#636363" fill-opacity="0.78"/>
<circle cx="87.6" cy="259.27" r="4.6" fill="#997300" fill-opacity="0.78"/>
<circle cx="87.6" cy="264.45" r="4.3" fill="#264478" fill-opacity="0.78"/>
<circle cx="87.6" cy="269.62" r="4.3" fill="#43682B" fill-opacity="0.78"/>
<circle cx="87.6" cy="274.8" r="3.8" fill="#7CAFDD" fill-opacity="0.78"/>
<circle cx="87.6" cy="279.97" r="3.5" fill="#F1975A" fill-opacity="0.78"/>
<circle cx="87.6" cy="285.15" r="3.3" fill="#B7B7B7" fill-opacity="0.78"/>
<circle cx="87.6" cy="290.32" r="3.3" fill="#FFCD33" fill-opacity="0.78"/>
<circle cx="87.6" cy="295.5" r="3.2" fill="#698ED0" fill-opacity="0.78"/>
<circle cx="87.6" cy="300.67" r="3" fill="#8CC168" fill-opacity="0.78"/>
<circle cx="87.6" cy="305.85" r="3" fill="#327DC2" fill-opacity="0.78"/>
<circle cx="87.6" cy="311.02" r="2.8" fill="#D26012" fill-opacity="0.78"/>
<circle cx="122.2" cy="212.7" r="16.4" fill="#5B9BD5" fill-opacity="0.78"/>
<circle cx="122.2" cy="217.88" r="12.7" fill="#ED7D31" fill-opacity="0.78"/>
<circle cx="122.2" cy="223.05" r="8" fill="#A5A5A5" fill-opacity="0.78"/>
<circle cx="122.2" cy="228.22" r="9" fill="#FFC000" fill-opacity="0.78"/>
<circle cx="122.2" cy="233.4" r="6" fill="#4472C4" fill-opacity="0.78"/>
<circle cx="122.2" cy="238.57" r="5.4" fill="#70AD47" fill-opacity="0.78"/>
<circle cx="122.2" cy="243.75" r="5" fill="#255E91" fill-opacity="0.78"/>
<circle cx="122.2" cy="248.92" r="4.3" fill="#9E480E" fill-opacity="0.78"/>
<circle cx="122.2" cy="254.1" r="4" fill="#636363" fill-opacity="0.78"/>
<circle cx="122.2" cy="259.27" r="5.3" fill="#997300" fill-opacity="0.78"/>
<circle cx="122.2" cy="264.45" r="3.8" fill="#264478" fill-opacity="0.78"/>
<circle cx="122.2" cy="269.62" r="3.5" fill="#43682B" fill-opacity="0.78"/>
<circle cx="122.2" cy="274.8" r="4" fill="#7CAFDD" fill-opacity="0.78"/>
<circle cx="122.2" cy="279.97" r="3.2" fill="#F1975A" fill-opacity="0.78"/>
<circle cx="122.2" cy="285.15" r="2.9" fill="#B7B7B7" fill-opacity="0.78"/>
<circle cx="122.2" cy="290.32" r="3.8" fill="#FFCD33" fill-opacity="0.78"/>
<circle cx="122.2" cy="295.5" r="3.2" fill="#698ED0" fill-opacity="0.78"/>
<circle cx="122.2" cy="300.67" r="3.2" fill="#8CC168" fill-opacity="0.78"/>
<circle cx="122.2" cy="305.85" r="2.5" fill="#327DC2" fill-opacity="0.78"/>
<circle cx="122.2" cy="311.02" r="2.8" fill="#D26012" fill-opacity="0.78"/>
<text x="48" y="193.1" font-size="7.5" textLength="47" lengthAdjust="spacingAndGlyphs" fill="#2c2c2c" stroke="#2c2c2c" stroke-width="0.06">#007 (noGvL)</text>
<text x="28" y="325.6" font-size="7.3" text-anchor="middle" textLength="22.72" lengthAdjust="spacingAndGlyphs" fill="#2c2c2c" stroke="#2c2c2c" stroke-width="0.06">PreDLI</text>
<text x="87.6" y="325.6" font-size="7.3" text-anchor="middle" textLength="16.44" lengthAdjust="spacingAndGlyphs" fill="#2c2c2c" stroke="#2c2c2c" stroke-width="0.06">d+14</text>
<text x="122.2" y="325.6" font-size="7.3" text-anchor="middle" textLength="16.44" lengthAdjust="spacingAndGlyphs" fill="#2c2c2c" stroke="#2c2c2c" stroke-width="0.06">d+28</text>
<text x="56.4" y="321.5" font-size="7.3" text-anchor="middle" textLength="11.36" lengthAdjust="spacingAndGlyphs" fill="#2c2c2c" stroke="#2c2c2c" stroke-width="0.06">DLI</text>
<text x="56.4" y="330.8" font-size="7.3" text-anchor="middle" textLength="15.83" lengthAdjust="spacingAndGlyphs" fill="#2c2c2c" stroke="#2c2c2c" stroke-width="0.06">input</text>
<circle cx="162.5" cy="213.9" r="18.2" fill="url(#hh)" stroke="#6e6e6e" stroke-width="0.55"/>
<circle cx="162.5" cy="223.9" r="14.9" fill="url(#hd)" stroke="#4a4a4a" stroke-width="0.6"/>
<circle cx="162.5" cy="233.7" r="10.5" fill="url(#hh2)" stroke="#4a4a4a" stroke-width="0.6"/>
<circle cx="162.5" cy="244.5" r="7.43" fill="#d6d6d6" fill-opacity="0.9" stroke="#777" stroke-width="0.5"/>
<g stroke="#7a7a7a" stroke-width="0.5">
<circle cx="162.5" cy="255.1" r="3.32" fill="#dcdcdc"/>
<circle cx="162.5" cy="265.2" r="2.88" fill="#dcdcdc"/>
<circle cx="162.5" cy="275.1" r="2.35" fill="#dcdcdc"/>
<circle cx="162.5" cy="285.2" r="1.66" fill="#dcdcdc"/>
<circle cx="162.5" cy="295.5" r="1.05" fill="#dcdcdc"/>
</g>
<text x="181.5" y="216.4" font-size="5.8" textLength="17.81" lengthAdjust="spacingAndGlyphs" fill="#262626" stroke="#262626" stroke-width="0.04">30.00%</text>
<text x="179.9" y="226.5" font-size="5.8" textLength="17.81" lengthAdjust="spacingAndGlyphs" fill="#262626" stroke="#262626" stroke-width="0.04">20.00%</text>
<text x="176.1" y="236.3" font-size="5.8" textLength="17.81" lengthAdjust="spacingAndGlyphs" fill="#262626" stroke="#262626" stroke-width="0.04">10.00%</text>
<text x="172.2" y="246.5" font-size="5.8" textLength="14.89" lengthAdjust="spacingAndGlyphs" fill="#262626" stroke="#262626" stroke-width="0.04">5.00%</text>
<text x="169" y="256.8" font-size="5.8" textLength="14.89" lengthAdjust="spacingAndGlyphs" fill="#262626" stroke="#262626" stroke-width="0.04">1.00%</text>
<text x="168.5" y="267.1" font-size="5.8" textLength="14.89" lengthAdjust="spacingAndGlyphs" fill="#262626" stroke="#262626" stroke-width="0.04">0.75%</text>
<text x="168.5" y="277" font-size="5.8" textLength="14.89" lengthAdjust="spacingAndGlyphs" fill="#262626" stroke="#262626" stroke-width="0.04">0.50%</text>
<text x="168.5" y="287.2" font-size="5.8" textLength="14.89" lengthAdjust="spacingAndGlyphs" fill="#262626" stroke="#262626" stroke-width="0.04">0.25%</text>
<text x="168.5" y="297.5" font-size="5.8" textLength="14.89" lengthAdjust="spacingAndGlyphs" fill="#262626" stroke="#262626" stroke-width="0.04">0.10%</text>
<rect x="204.2" y="203.7" width="1.6" height="1.6" fill="#5B9BD5"/>
<rect x="204.2" y="209.34" width="1.6" height="1.6" fill="#ED7D31"/>
<rect x="204.2" y="214.98" width="1.6" height="1.6" fill="#A5A5A5"/>
<rect x="204.2" y="220.62" width="1.6" height="1.6" fill="#FFC000"/>
<rect x="204.2" y="226.26" width="1.6" height="1.6" fill="#4472C4"/>
<rect x="204.2" y="231.9" width="1.6" height="1.6" fill="#70AD47"/>
<rect x="204.2" y="237.54" width="1.6" height="1.6" fill="#255E91"/>
<rect x="204.2" y="243.18" width="1.6" height="1.6" fill="#9E480E"/>
<rect x="204.2" y="248.82" width="1.6" height="1.6" fill="#636363"/>
<rect x="204.2" y="254.46" width="1.6" height="1.6" fill="#997300"/>
<rect x="204.2" y="260.1" width="1.6" height="1.6" fill="#264478"/>
<rect x="204.2" y="265.74" width="1.6" height="1.6" fill="#43682B"/>
<rect x="204.2" y="271.38" width="1.6" height="1.6" fill="#7CAFDD"/>
<rect x="204.2" y="277.02" width="1.6" height="1.6" fill="#F1975A"/>
<rect x="204.2" y="282.66" width="1.6" height="1.6" fill="#B7B7B7"/>
<rect x="204.2" y="288.3" width="1.6" height="1.6" fill="#FFCD33"/>
<rect x="204.2" y="293.94" width="1.6" height="1.6" fill="#698ED0"/>
<rect x="204.2" y="299.58" width="1.6" height="1.6" fill="#8CC168"/>
<rect x="204.2" y="305.22" width="1.6" height="1.6" fill="#327DC2"/>
<rect x="204.2" y="310.86" width="1.6" height="1.6" fill="#D26012"/>
<text x="207.6" y="206.45" font-size="5.4" textLength="50.2" lengthAdjust="spacingAndGlyphs" fill="#282828">CATSDSRSGRGANVLTF</text>
<text x="207.6" y="212.09" font-size="5.4" textLength="42.78" lengthAdjust="spacingAndGlyphs" fill="#282828">CAIANPSASTDTQYF</text>
<text x="207.6" y="217.73" font-size="5.4" textLength="46.21" lengthAdjust="spacingAndGlyphs" fill="#282828">CASSPGQGANYEQYF</text>
<text x="207.6" y="223.37" font-size="5.4" textLength="39.12" lengthAdjust="spacingAndGlyphs" fill="#282828">CASSFSGGYGYTF</text>
<text x="207.6" y="229.01" font-size="5.4" textLength="44.98" lengthAdjust="spacingAndGlyphs" fill="#282828">CASPGQSLMNTEAFF</text>
<text x="207.6" y="234.65" font-size="5.4" textLength="39.61" lengthAdjust="spacingAndGlyphs" fill="#282828">CASSLASGWEQFF</text>
<text x="207.6" y="240.29" font-size="5.4" textLength="44.25" lengthAdjust="spacingAndGlyphs" fill="#282828">CASSLGWGLIENQYF</text>
<text x="207.6" y="245.93" font-size="5.4" textLength="45.23" lengthAdjust="spacingAndGlyphs" fill="#282828">CASRLGTGESHEQYF</text>
<text x="207.6" y="251.57" font-size="5.4" textLength="48.65" lengthAdjust="spacingAndGlyphs" fill="#282828">CASSQDQGGWGNQYF</text>
<text x="207.6" y="257.21" font-size="5.4" textLength="42.05" lengthAdjust="spacingAndGlyphs" fill="#282828">CASSSAGGLNEQFF</text>
<text x="207.6" y="262.85" font-size="5.4" textLength="45.88" lengthAdjust="spacingAndGlyphs" fill="#282828">CAILLHRTYSNQPQHF</text>
<text x="207.6" y="268.49" font-size="5.4" textLength="41.32" lengthAdjust="spacingAndGlyphs" fill="#282828">CASSIGILEHNEQFF</text>
<text x="207.6" y="274.13" font-size="5.4" textLength="43.77" lengthAdjust="spacingAndGlyphs" fill="#282828">CASTPGAGNLEKLFF</text>
<text x="207.6" y="279.77" font-size="5.4" textLength="44.99" lengthAdjust="spacingAndGlyphs" fill="#282828">CASSAGTSGTYEQYF</text>
<text x="207.6" y="285.41" font-size="5.4" textLength="46.95" lengthAdjust="spacingAndGlyphs" fill="#282828">CASSFLAGVGLETQYF</text>
<text x="207.6" y="291.05" font-size="5.4" textLength="41.15" lengthAdjust="spacingAndGlyphs" fill="#282828">CASRGTATSYEQYF</text>
<text x="207.6" y="296.69" font-size="5.4" textLength="50.36" lengthAdjust="spacingAndGlyphs" fill="#282828">CASSRGTGGGNQPQHF</text>
<text x="207.6" y="302.33" font-size="5.4" textLength="45.48" lengthAdjust="spacingAndGlyphs" fill="#282828">CASSQEGQLSYEQYF</text>
<text x="207.6" y="307.97" font-size="5.4" textLength="44.75" lengthAdjust="spacingAndGlyphs" fill="#282828">CASSPGEASSTEQYF</text>
<text x="207.6" y="313.61" font-size="5.4" textLength="45.23" lengthAdjust="spacingAndGlyphs" fill="#282828">CASSYGQGENTEAFF</text>
<circle cx="285.2" cy="212.1" r="15.7" fill="#5B9BD5" fill-opacity="0.78"/>
<circle cx="285.2" cy="217.36" r="10.4" fill="#ED7D31" fill-opacity="0.78"/>
<circle cx="285.2" cy="222.62" r="8.1" fill="#A5A5A5" fill-opacity="0.78"/>
<circle cx="285.2" cy="227.88" r="7.4" fill="#FFC000" fill-opacity="0.78"/>
<circle cx="285.2" cy="233.14" r="5.9" fill="#4472C4" fill-opacity="0.78"/>
<circle cx="285.2" cy="238.4" r="6.7" fill="#70AD47" fill-opacity="0.78"/>
<circle cx="285.2" cy="243.66" r="3.7" fill="#255E91" fill-opacity="0.78"/>
<circle cx="285.2" cy="248.92" r="5.2" fill="#9E480E" fill-opacity="0.78"/>
<circle cx="285.2" cy="254.18" r="4.4" fill="#636363" fill-opacity="0.78"/>
<circle cx="285.2" cy="259.44" r="4" fill="#997300" fill-opacity="0.78"/>
<circle cx="285.2" cy="264.7" r="3.5" fill="#264478" fill-opacity="0.78"/>
<circle cx="285.2" cy="269.96" r="3.3" fill="#43682B" fill-opacity="0.78"/>
<circle cx="285.2" cy="275.22" r="3.3" fill="#7CAFDD" fill-opacity="0.78"/>
<circle cx="285.2" cy="280.48" r="3.2" fill="#F1975A" fill-opacity="0.78"/>
<circle cx="285.2" cy="285.74" r="2.2" fill="#B7B7B7" fill-opacity="0.78"/>
<circle cx="285.2" cy="291" r="3" fill="#FFCD33" fill-opacity="0.78"/>
<circle cx="285.2" cy="296.26" r="2.5" fill="#698ED0" fill-opacity="0.78"/>
<circle cx="285.2" cy="301.52" r="2.5" fill="#8CC168" fill-opacity="0.78"/>
<circle cx="285.2" cy="306.78" r="2.2" fill="#327DC2" fill-opacity="0.78"/>
<circle cx="285.2" cy="312.04" r="2.8" fill="#D26012" fill-opacity="0.78"/>
<circle cx="311.5" cy="212.1" r="0.5" fill="#5B9BD5" fill-opacity="0.78"/>
<circle cx="311.5" cy="243.66" r="1.1" fill="#255E91" fill-opacity="0.78"/>
<circle cx="311.5" cy="264.7" r="2.2" fill="#264478" fill-opacity="0.78"/>
<circle cx="311.5" cy="280.48" r="0.6" fill="#F1975A" fill-opacity="0.78"/>
<circle cx="311.5" cy="291" r="1.7" fill="#FFCD33" fill-opacity="0.78"/>
<circle cx="311.5" cy="301.52" r="0.4" fill="#8CC168" fill-opacity="0.78"/>
<circle cx="343.5" cy="212.1" r="14.6" fill="#5B9BD5" fill-opacity="0.78"/>
<circle cx="343.5" cy="217.36" r="10" fill="#ED7D31" fill-opacity="0.78"/>
<circle cx="343.5" cy="222.62" r="7.4" fill="#A5A5A5" fill-opacity="0.78"/>
<circle cx="343.5" cy="227.88" r="7.7" fill="#FFC000" fill-opacity="0.78"/>
<circle cx="343.5" cy="233.14" r="6.5" fill="#4472C4" fill-opacity="0.78"/>
<circle cx="343.5" cy="238.4" r="5.5" fill="#70AD47" fill-opacity="0.78"/>
<circle cx="343.5" cy="243.66" r="4.8" fill="#255E91" fill-opacity="0.78"/>
<circle cx="343.5" cy="248.92" r="4.6" fill="#9E480E" fill-opacity="0.78"/>
<circle cx="343.5" cy="254.18" r="4.6" fill="#636363" fill-opacity="0.78"/>
<circle cx="343.5" cy="259.44" r="4" fill="#997300" fill-opacity="0.78"/>
<circle cx="343.5" cy="264.7" r="3.7" fill="#264478" fill-opacity="0.78"/>
<circle cx="343.5" cy="269.96" r="3.5" fill="#43682B" fill-opacity="0.78"/>
<circle cx="343.5" cy="275.22" r="3.5" fill="#7CAFDD" fill-opacity="0.78"/>
<circle cx="343.5" cy="280.48" r="3.5" fill="#F1975A" fill-opacity="0.78"/>
<circle cx="343.5" cy="285.74" r="3.3" fill="#B7B7B7" fill-opacity="0.78"/>
<circle cx="343.5" cy="291" r="3.3" fill="#FFCD33" fill-opacity="0.78"/>
<circle cx="343.5" cy="296.26" r="3" fill="#698ED0" fill-opacity="0.78"/>
<circle cx="343.5" cy="301.52" r="2.8" fill="#8CC168" fill-opacity="0.78"/>
<circle cx="343.5" cy="306.78" r="2.8" fill="#327DC2" fill-opacity="0.78"/>
<circle cx="343.5" cy="312.04" r="2.8" fill="#D26012" fill-opacity="0.78"/>
<circle cx="378.1" cy="212.1" r="16.3" fill="#5B9BD5" fill-opacity="0.78"/>
<circle cx="378.1" cy="217.36" r="6.2" fill="#ED7D31" fill-opacity="0.78"/>
<circle cx="378.1" cy="222.62" r="8.3" fill="#A5A5A5" fill-opacity="0.78"/>
<circle cx="378.1" cy="227.88" r="5.2" fill="#FFC000" fill-opacity="0.78"/>
<circle cx="378.1" cy="233.14" r="8.3" fill="#4472C4" fill-opacity="0.78"/>
<circle cx="378.1" cy="238.4" r="4.4" fill="#70AD47" fill-opacity="0.78"/>
<circle cx="378.1" cy="243.66" r="3" fill="#255E91" fill-opacity="0.78"/>
<circle cx="378.1" cy="248.92" r="3" fill="#9E480E" fill-opacity="0.78"/>
<circle cx="378.1" cy="254.18" r="2" fill="#636363" fill-opacity="0.78"/>
<circle cx="378.1" cy="259.44" r="4.2" fill="#997300" fill-opacity="0.78"/>
<circle cx="378.1" cy="264.7" r="1.2" fill="#264478" fill-opacity="0.78"/>
<circle cx="378.1" cy="269.96" r="1.3" fill="#43682B" fill-opacity="0.78"/>
<circle cx="378.1" cy="275.22" r="1.6" fill="#7CAFDD" fill-opacity="0.78"/>
<circle cx="378.1" cy="280.48" r="1.4" fill="#F1975A" fill-opacity="0.78"/>
<circle cx="378.1" cy="285.74" r="5" fill="#B7B7B7" fill-opacity="0.78"/>
<circle cx="378.1" cy="291" r="1.2" fill="#FFCD33" fill-opacity="0.78"/>
<circle cx="378.1" cy="296.26" r="1.3" fill="#698ED0" fill-opacity="0.78"/>
<circle cx="378.1" cy="301.52" r="2" fill="#8CC168" fill-opacity="0.78"/>
<circle cx="378.1" cy="306.78" r="1.2" fill="#327DC2" fill-opacity="0.78"/>
<circle cx="378.1" cy="312.04" r="2" fill="#D26012" fill-opacity="0.78"/>
<text x="307.7" y="193" font-size="7.5" textLength="46.5" lengthAdjust="spacingAndGlyphs" fill="#2c2c2c" stroke="#2c2c2c" stroke-width="0.06">#018 (noGvL)</text>
<text x="285.4" y="325.6" font-size="7.3" text-anchor="middle" textLength="22.72" lengthAdjust="spacingAndGlyphs" fill="#2c2c2c" stroke="#2c2c2c" stroke-width="0.06">PreDLI</text>
<text x="343.3" y="325.6" font-size="7.3" text-anchor="middle" textLength="16.44" lengthAdjust="spacingAndGlyphs" fill="#2c2c2c" stroke="#2c2c2c" stroke-width="0.06">d+14</text>
<text x="378.1" y="325.6" font-size="7.3" text-anchor="middle" textLength="16.44" lengthAdjust="spacingAndGlyphs" fill="#2c2c2c" stroke="#2c2c2c" stroke-width="0.06">d+27</text>
<text x="311.5" y="321.5" font-size="7.3" text-anchor="middle" textLength="11.36" lengthAdjust="spacingAndGlyphs" fill="#2c2c2c" stroke="#2c2c2c" stroke-width="0.06">DLI</text>
<text x="311.5" y="330.8" font-size="7.3" text-anchor="middle" textLength="15.83" lengthAdjust="spacingAndGlyphs" fill="#2c2c2c" stroke="#2c2c2c" stroke-width="0.06">input</text>
<circle cx="419.2" cy="214.4" r="18.2" fill="url(#hh)" stroke="#6e6e6e" stroke-width="0.55"/>
<circle cx="419.2" cy="224.4" r="14.9" fill="url(#hd)" stroke="#4a4a4a" stroke-width="0.6"/>
<circle cx="419.2" cy="234.2" r="10.5" fill="url(#hh2)" stroke="#4a4a4a" stroke-width="0.6"/>
<circle cx="419.2" cy="245" r="7.43" fill="#d6d6d6" fill-opacity="0.9" stroke="#777" stroke-width="0.5"/>
<g stroke="#7a7a7a" stroke-width="0.5">
<circle cx="419.2" cy="255.1" r="3.32" fill="#dcdcdc"/>
<circle cx="419.2" cy="265.4" r="2.88" fill="#dcdcdc"/>
<circle cx="419.2" cy="275.5" r="2.35" fill="#dcdcdc"/>
<circle cx="419.2" cy="285.6" r="1.66" fill="#dcdcdc"/>
<circle cx="419.2" cy="295.8" r="1.05" fill="#dcdcdc"/>
</g>
<text x="439" y="216.4" font-size="5.8" textLength="17.81" lengthAdjust="spacingAndGlyphs" fill="#262626" stroke="#262626" stroke-width="0.04">30.00%</text>
<text x="437" y="226.5" font-size="5.8" textLength="17.81" lengthAdjust="spacingAndGlyphs" fill="#262626" stroke="#262626" stroke-width="0.04">20.00%</text>
<text x="432.8" y="236.3" font-size="5.8" textLength="17.81" lengthAdjust="spacingAndGlyphs" fill="#262626" stroke="#262626" stroke-width="0.04">10.00%</text>
<text x="429.5" y="246.5" font-size="5.8" textLength="14.89" lengthAdjust="spacingAndGlyphs" fill="#262626" stroke="#262626" stroke-width="0.04">5.00%</text>
<text x="425.9" y="256.8" font-size="5.8" textLength="14.89" lengthAdjust="spacingAndGlyphs" fill="#262626" stroke="#262626" stroke-width="0.04">1.00%</text>
<text x="425.4" y="267.1" font-size="5.8" textLength="14.89" lengthAdjust="spacingAndGlyphs" fill="#262626" stroke="#262626" stroke-width="0.04">0.75%</text>
<text x="425.4" y="277.2" font-size="5.8" textLength="14.89" lengthAdjust="spacingAndGlyphs" fill="#262626" stroke="#262626" stroke-width="0.04">0.50%</text>
<text x="425.4" y="287.4" font-size="5.8" textLength="14.89" lengthAdjust="spacingAndGlyphs" fill="#262626" stroke="#262626" stroke-width="0.04">0.25%</text>
<text x="425.4" y="297.7" font-size="5.8" textLength="14.89" lengthAdjust="spacingAndGlyphs" fill="#262626" stroke="#262626" stroke-width="0.04">0.10%</text>
<rect x="457.4" y="204.95" width="1.6" height="1.6" fill="#5B9BD5"/>
<rect x="457.4" y="210.62" width="1.6" height="1.6" fill="#ED7D31"/>
<rect x="457.4" y="216.29" width="1.6" height="1.6" fill="#A5A5A5"/>
<rect x="457.4" y="221.96" width="1.6" height="1.6" fill="#FFC000"/>
<rect x="457.4" y="227.63" width="1.6" height="1.6" fill="#4472C4"/>
<rect x="457.4" y="233.3" width="1.6" height="1.6" fill="#70AD47"/>
<rect x="457.4" y="238.97" width="1.6" height="1.6" fill="#255E91"/>
<rect x="457.4" y="244.64" width="1.6" height="1.6" fill="#9E480E"/>
<rect x="457.4" y="250.31" width="1.6" height="1.6" fill="#636363"/>
<rect x="457.4" y="255.98" width="1.6" height="1.6" fill="#997300"/>
<rect x="457.4" y="261.65" width="1.6" height="1.6" fill="#264478"/>
<rect x="457.4" y="267.32" width="1.6" height="1.6" fill="#43682B"/>
<rect x="457.4" y="272.99" width="1.6" height="1.6" fill="#7CAFDD"/>
<rect x="457.4" y="278.66" width="1.6" height="1.6" fill="#F1975A"/>
<rect x="457.4" y="284.33" width="1.6" height="1.6" fill="#B7B7B7"/>
<rect x="457.4" y="290" width="1.6" height="1.6" fill="#FFCD33"/>
<rect x="457.4" y="295.67" width="1.6" height="1.6" fill="#698ED0"/>
<rect x="457.4" y="301.34" width="1.6" height="1.6" fill="#8CC168"/>
<rect x="457.4" y="307.01" width="1.6" height="1.6" fill="#327DC2"/>
<rect x="457.4" y="312.68" width="1.6" height="1.6" fill="#D26012"/>
<text x="460.6" y="207.7" font-size="5.4" textLength="36.67" lengthAdjust="spacingAndGlyphs" fill="#282828">CSARGQFYEQYF</text>
<text x="460.6" y="213.37" font-size="5.4" textLength="35.7" lengthAdjust="spacingAndGlyphs" fill="#282828">CASSSANYGYTF</text>
<text x="460.6" y="219.04" font-size="5.4" textLength="47.19" lengthAdjust="spacingAndGlyphs" fill="#282828">CASSFFRGLPPPEQYF</text>
<text x="460.6" y="224.71" font-size="5.4" textLength="51.5" lengthAdjust="spacingAndGlyphs" fill="#282828">CAGSGGRGLTMNTEAFF</text>
<text x="460.6" y="230.38" font-size="5.4" textLength="50.11" lengthAdjust="spacingAndGlyphs" fill="#282828">CASSYDWTDDNQPQHF</text>
<text x="460.6" y="236.05" font-size="5.4" textLength="33.98" lengthAdjust="spacingAndGlyphs" fill="#282828">CAIEAMSGELFF</text>
<text x="460.6" y="241.72" font-size="5.4" textLength="44.74" lengthAdjust="spacingAndGlyphs" fill="#282828">CASSLGRDPLQTQYF</text>
<text x="460.6" y="247.39" font-size="5.4" textLength="42.29" lengthAdjust="spacingAndGlyphs" fill="#282828">CASRPNTGYNEQFF</text>
<text x="460.6" y="253.06" font-size="5.4" textLength="44.09" lengthAdjust="spacingAndGlyphs" fill="#282828">CSARVTEMSLYGYTF</text>
<text x="460.6" y="258.73" font-size="5.4" textLength="41.57" lengthAdjust="spacingAndGlyphs" fill="#282828">CASSYLSGTDEQYF</text>
<text x="460.6" y="264.4" font-size="5.4" textLength="44.01" lengthAdjust="spacingAndGlyphs" fill="#282828">CASSLALSGSNEQFF</text>
<text x="460.6" y="270.07" font-size="5.4" textLength="46.45" lengthAdjust="spacingAndGlyphs" fill="#282828">CASSQEGRGAHEQYF</text>
<text x="460.6" y="275.74" font-size="5.4" textLength="37.65" lengthAdjust="spacingAndGlyphs" fill="#282828">CASSISVSQPQHF</text>
<text x="460.6" y="281.41" font-size="5.4" textLength="44.25" lengthAdjust="spacingAndGlyphs" fill="#282828">CASSLGQGLNTEAFF</text>
<text x="460.6" y="287.08" font-size="5.4" textLength="39.6" lengthAdjust="spacingAndGlyphs" fill="#282828">CASSPTWGFEQFF</text>
<text x="460.6" y="292.75" font-size="5.4" textLength="50.69" lengthAdjust="spacingAndGlyphs" fill="#282828">CATSRGRDGLTRKEQYF</text>
<text x="460.6" y="298.42" font-size="5.4" textLength="48.41" lengthAdjust="spacingAndGlyphs" fill="#282828">CASSMLRGSSYNEQFF</text>
<text x="460.6" y="304.09" font-size="5.4" textLength="41.56" lengthAdjust="spacingAndGlyphs" fill="#282828">CSVGTGGTNEKLFF</text>
<text x="460.6" y="309.76" font-size="5.4" textLength="38.63" lengthAdjust="spacingAndGlyphs" fill="#282828">CASSTSGGAEAFF</text>
<text x="460.6" y="315.43" font-size="5.4" textLength="37.89" lengthAdjust="spacingAndGlyphs" fill="#282828">CASSSTPGTEAFF</text>
<circle cx="26.5" cy="366.7" r="6.2" fill="#5B9BD5" fill-opacity="0.78"/>
<circle cx="26.5" cy="371.83" r="12.9" fill="#ED7D31" fill-opacity="0.78"/>
<circle cx="26.5" cy="382.09" r="7.8" fill="#FFC000" fill-opacity="0.78"/>
<circle cx="26.5" cy="387.22" r="9" fill="#4472C4" fill-opacity="0.78"/>
<circle cx="26.5" cy="392.35" r="4.8" fill="#70AD47" fill-opacity="0.78"/>
<circle cx="26.5" cy="397.48" r="11.9" fill="#255E91" fill-opacity="0.78"/>
<circle cx="26.5" cy="402.61" r="6.5" fill="#9E480E" fill-opacity="0.78"/>
<circle cx="26.5" cy="407.74" r="7.4" fill="#636363" fill-opacity="0.78"/>
<circle cx="26.5" cy="412.87" r="5.4" fill="#997300" fill-opacity="0.78"/>
<circle cx="26.5" cy="418" r="7.4" fill="#264478" fill-opacity="0.78"/>
<circle cx="26.5" cy="423.13" r="4.4" fill="#43682B" fill-opacity="0.78"/>
<circle cx="26.5" cy="428.26" r="3.4" fill="#7CAFDD" fill-opacity="0.78"/>
<circle cx="26.5" cy="433.39" r="5" fill="#F1975A" fill-opacity="0.78"/>
<circle cx="26.5" cy="438.52" r="4.4" fill="#B7B7B7" fill-opacity="0.78"/>
<circle cx="26.5" cy="443.65" r="2.4" fill="#FFCD33" fill-opacity="0.78"/>
<circle cx="26.5" cy="448.78" r="6.7" fill="#698ED0" fill-opacity="0.78"/>
<circle cx="26.5" cy="453.91" r="5" fill="#8CC168" fill-opacity="0.78"/>
<circle cx="26.5" cy="459.04" r="2.5" fill="#327DC2" fill-opacity="0.78"/>
<circle cx="26.5" cy="464.17" r="8.7" fill="#D26012" fill-opacity="0.78"/>
<circle cx="56.9" cy="366.7" r="5" fill="#5B9BD5" fill-opacity="0.78"/>
<circle cx="56.9" cy="371.83" r="12.3" fill="#ED7D31" fill-opacity="0.78"/>
<circle cx="56.9" cy="376.96" r="13.4" fill="#A5A5A5" fill-opacity="0.78"/>
<circle cx="56.9" cy="382.09" r="12.1" fill="#FFC000" fill-opacity="0.78"/>
<circle cx="56.9" cy="387.22" r="10.9" fill="#4472C4" fill-opacity="0.78"/>
<circle cx="56.9" cy="392.35" r="4" fill="#70AD47" fill-opacity="0.78"/>
<circle cx="56.9" cy="397.48" r="1" fill="#255E91" fill-opacity="0.78"/>
<circle cx="56.9" cy="402.61" r="4.6" fill="#9E480E" fill-opacity="0.78"/>
<circle cx="56.9" cy="407.74" r="0.5" fill="#636363" fill-opacity="0.78"/>
<circle cx="56.9" cy="412.87" r="7.7" fill="#997300" fill-opacity="0.78"/>
<circle cx="56.9" cy="418" r="0.5" fill="#264478" fill-opacity="0.78"/>
<circle cx="56.9" cy="428.26" r="12.6" fill="#7CAFDD" fill-opacity="0.78"/>
<circle cx="56.9" cy="433.39" r="1.2" fill="#F1975A" fill-opacity="0.78"/>
<circle cx="56.9" cy="438.52" r="1.2" fill="#B7B7B7" fill-opacity="0.78"/>
<circle cx="56.9" cy="443.65" r="3.5" fill="#FFCD33" fill-opacity="0.78"/>
<circle cx="56.9" cy="448.78" r="1.7" fill="#698ED0" fill-opacity="0.78"/>
<circle cx="56.9" cy="459.04" r="4.9" fill="#327DC2" fill-opacity="0.78"/>
<circle cx="88.7" cy="366.7" r="17.1" fill="#5B9BD5" fill-opacity="0.78"/>
<circle cx="88.7" cy="371.83" r="13.05" fill="#ED7D31" fill-opacity="0.78"/>
<circle cx="88.7" cy="376.96" r="12.1" fill="#A5A5A5" fill-opacity="0.78"/>
<circle cx="88.7" cy="382.09" r="11.7" fill="#FFC000" fill-opacity="0.78"/>
<circle cx="88.7" cy="387.22" r="11.3" fill="#4472C4" fill-opacity="0.78"/>
<circle cx="88.7" cy="392.35" r="9.8" fill="#70AD47" fill-opacity="0.78"/>
<circle cx="88.7" cy="397.48" r="8.3" fill="#255E91" fill-opacity="0.78"/>
<circle cx="88.7" cy="402.61" r="8.1" fill="#9E480E" fill-opacity="0.78"/>
<circle cx="88.7" cy="407.74" r="6.7" fill="#636363" fill-opacity="0.78"/>
<circle cx="88.7" cy="412.87" r="6.9" fill="#997300" fill-opacity="0.78"/>
<circle cx="88.7" cy="418" r="6.9" fill="#264478" fill-opacity="0.78"/>
<circle cx="88.7" cy="423.13" r="6.7" fill="#43682B" fill-opacity="0.78"/>
<circle cx="88.7" cy="428.26" r="6.6" fill="#7CAFDD" fill-opacity="0.78"/>
<circle cx="88.7" cy="433.39" r="6.5" fill="#F1975A" fill-opacity="0.78"/>
<circle cx="88.7" cy="438.52" r="6.3" fill="#B7B7B7" fill-opacity="0.78"/>
<circle cx="88.7" cy="443.65" r="6.1" fill="#FFCD33" fill-opacity="0.78"/>
<circle cx="88.7" cy="448.78" r="5.9" fill="#698ED0" fill-opacity="0.78"/>
<circle cx="88.7" cy="453.91" r="5.7" fill="#8CC168" fill-opacity="0.78"/>
<circle cx="88.7" cy="459.04" r="5.4" fill="#327DC2" fill-opacity="0.78"/>
<circle cx="88.7" cy="464.17" r="5.2" fill="#D26012" fill-opacity="0.78"/>
<circle cx="123.2" cy="366.7" r="3.5" fill="#5B9BD5" fill-opacity="0.78"/>
<circle cx="123.2" cy="371.83" r="13.6" fill="#ED7D31" fill-opacity="0.78"/>
<circle cx="123.2" cy="376.96" r="11.8" fill="#A5A5A5" fill-opacity="0.78"/>
<circle cx="123.2" cy="382.09" r="13.1" fill="#FFC000" fill-opacity="0.78"/>
<circle cx="123.2" cy="387.22" r="13.1" fill="#4472C4" fill-opacity="0.78"/>
<circle cx="123.2" cy="392.35" r="12.5" fill="#70AD47" fill-opacity="0.78"/>
<circle cx="123.2" cy="397.48" r="7.5" fill="#255E91" fill-opacity="0.78"/>
<circle cx="123.2" cy="402.61" r="8" fill="#9E480E" fill-opacity="0.78"/>
<circle cx="123.2" cy="407.74" r="5.6" fill="#636363" fill-opacity="0.78"/>
<circle cx="123.2" cy="412.87" r="7.9" fill="#997300" fill-opacity="0.78"/>
<circle cx="123.2" cy="418" r="8.7" fill="#264478" fill-opacity="0.78"/>
<circle cx="123.2" cy="423.13" r="6.8" fill="#43682B" fill-opacity="0.78"/>
<circle cx="123.2" cy="428.26" r="7.5" fill="#7CAFDD" fill-opacity="0.78"/>
<circle cx="123.2" cy="433.39" r="5.6" fill="#F1975A" fill-opacity="0.78"/>
<circle cx="123.2" cy="438.52" r="6.5" fill="#B7B7B7" fill-opacity="0.78"/>
<circle cx="123.2" cy="443.65" r="5.9" fill="#FFCD33" fill-opacity="0.78"/>
<circle cx="123.2" cy="448.78" r="4.4" fill="#698ED0" fill-opacity="0.78"/>
<circle cx="123.2" cy="453.91" r="7.1" fill="#8CC168" fill-opacity="0.78"/>
<circle cx="123.2" cy="459.04" r="5.9" fill="#327DC2" fill-opacity="0.78"/>
<circle cx="123.2" cy="464.17" r="4.1" fill="#D26012" fill-opacity="0.78"/>
<text x="53.8" y="346.3" font-size="7.5" textLength="38.6" lengthAdjust="spacingAndGlyphs" fill="#2c2c2c" stroke="#2c2c2c" stroke-width="0.06">#022 (GvL)</text>
<text x="26.5" y="482.8" font-size="7.3" text-anchor="middle" textLength="22.72" lengthAdjust="spacingAndGlyphs" fill="#2c2c2c" stroke="#2c2c2c" stroke-width="0.06">PreDLI</text>
<text x="88.4" y="482.8" font-size="7.3" text-anchor="middle" textLength="16.44" lengthAdjust="spacingAndGlyphs" fill="#2c2c2c" stroke="#2c2c2c" stroke-width="0.06">d+15</text>
<text x="123.3" y="482.8" font-size="7.3" text-anchor="middle" textLength="16.44" lengthAdjust="spacingAndGlyphs" fill="#2c2c2c" stroke="#2c2c2c" stroke-width="0.06">d+32</text>
<text x="57.5" y="479" font-size="7.3" text-anchor="middle" textLength="11.36" lengthAdjust="spacingAndGlyphs" fill="#2c2c2c" stroke="#2c2c2c" stroke-width="0.06">DLI</text>
<text x="57.3" y="487.9" font-size="7.3" text-anchor="middle" textLength="15.83" lengthAdjust="spacingAndGlyphs" fill="#2c2c2c" stroke="#2c2c2c" stroke-width="0.06">input</text>
<circle cx="163.3" cy="367.4" r="18.2" fill="url(#hh)" stroke="#6e6e6e" stroke-width="0.55"/>
<circle cx="163.3" cy="377.4" r="14.9" fill="url(#hd)" stroke="#4a4a4a" stroke-width="0.6"/>
<circle cx="163.3" cy="387.2" r="10.5" fill="url(#hh2)" stroke="#4a4a4a" stroke-width="0.6"/>
<circle cx="163.3" cy="398" r="7.43" fill="#d6d6d6" fill-opacity="0.9" stroke="#777" stroke-width="0.5"/>
<g stroke="#7a7a7a" stroke-width="0.5">
<circle cx="163.3" cy="408.2" r="3.32" fill="#dcdcdc"/>
<circle cx="163.3" cy="418.6" r="2.88" fill="#dcdcdc"/>
<circle cx="163.3" cy="428.8" r="2.35" fill="#dcdcdc"/>
<circle cx="163.3" cy="439.1" r="1.66" fill="#dcdcdc"/>
<circle cx="163.3" cy="448.9" r="1.05" fill="#dcdcdc"/>
</g>
<text x="183.1" y="369.8" font-size="5.8" textLength="17.81" lengthAdjust="spacingAndGlyphs" fill="#262626" stroke="#262626" stroke-width="0.04">30.00%</text>
<text x="180.7" y="380" font-size="5.8" textLength="17.81" lengthAdjust="spacingAndGlyphs" fill="#262626" stroke="#262626" stroke-width="0.04">20.00%</text>
<text x="177.4" y="390.1" font-size="5.8" textLength="17.81" lengthAdjust="spacingAndGlyphs" fill="#262626" stroke="#262626" stroke-width="0.04">10.00%</text>
<text x="173.4" y="400.4" font-size="5.8" textLength="14.89" lengthAdjust="spacingAndGlyphs" fill="#262626" stroke="#262626" stroke-width="0.04">5.00%</text>
<text x="170.1" y="410.5" font-size="5.8" textLength="14.89" lengthAdjust="spacingAndGlyphs" fill="#262626" stroke="#262626" stroke-width="0.04">1.00%</text>
<text x="169.3" y="420.6" font-size="5.8" textLength="14.89" lengthAdjust="spacingAndGlyphs" fill="#262626" stroke="#262626" stroke-width="0.04">0.75%</text>
<text x="169.3" y="430.8" font-size="5.8" textLength="14.89" lengthAdjust="spacingAndGlyphs" fill="#262626" stroke="#262626" stroke-width="0.04">0.50%</text>
<text x="169.3" y="441" font-size="5.8" textLength="14.89" lengthAdjust="spacingAndGlyphs" fill="#262626" stroke="#262626" stroke-width="0.04">0.25%</text>
<text x="166.9" y="451" font-size="5.8" textLength="14.89" lengthAdjust="spacingAndGlyphs" fill="#262626" stroke="#262626" stroke-width="0.04">0.10%</text>
<rect x="202.6" y="359.8" width="1.6" height="1.6" fill="#5B9BD5"/>
<rect x="202.6" y="365.42" width="1.6" height="1.6" fill="#ED7D31"/>
<rect x="202.6" y="371.04" width="1.6" height="1.6" fill="#A5A5A5"/>
<rect x="202.6" y="376.66" width="1.6" height="1.6" fill="#FFC000"/>
<rect x="202.6" y="382.28" width="1.6" height="1.6" fill="#4472C4"/>
<rect x="202.6" y="387.9" width="1.6" height="1.6" fill="#70AD47"/>
<rect x="202.6" y="393.52" width="1.6" height="1.6" fill="#255E91"/>
<rect x="202.6" y="399.14" width="1.6" height="1.6" fill="#9E480E"/>
<rect x="202.6" y="404.76" width="1.6" height="1.6" fill="#636363"/>
<rect x="202.6" y="410.38" width="1.6" height="1.6" fill="#997300"/>
<rect x="202.6" y="416" width="1.6" height="1.6" fill="#264478"/>
<rect x="202.6" y="421.62" width="1.6" height="1.6" fill="#43682B"/>
<rect x="202.6" y="427.24" width="1.6" height="1.6" fill="#7CAFDD"/>
<rect x="202.6" y="432.86" width="1.6" height="1.6" fill="#F1975A"/>
<rect x="202.6" y="438.48" width="1.6" height="1.6" fill="#B7B7B7"/>
<rect x="202.6" y="444.1" width="1.6" height="1.6" fill="#FFCD33"/>
<rect x="202.6" y="449.72" width="1.6" height="1.6" fill="#698ED0"/>
<rect x="202.6" y="455.34" width="1.6" height="1.6" fill="#8CC168"/>
<rect x="202.6" y="460.96" width="1.6" height="1.6" fill="#327DC2"/>
<rect x="202.6" y="466.58" width="1.6" height="1.6" fill="#D26012"/>
<text x="206.1" y="362.55" font-size="5.4" textLength="38.39" lengthAdjust="spacingAndGlyphs" fill="#282828">CASTLAPGAEQYF</text>
<text x="206.1" y="368.17" font-size="5.4" textLength="44.25" lengthAdjust="spacingAndGlyphs" fill="#282828">CASSQSLGSNTEAFF</text>
<text x="206.1" y="373.79" font-size="5.4" textLength="44.66" lengthAdjust="spacingAndGlyphs" fill="#282828">CASSLTPGGVHEQYF</text>
<text x="206.1" y="379.41" font-size="5.4" textLength="43.44" lengthAdjust="spacingAndGlyphs" fill="#282828">CASSISGGAAYEQYF</text>
<text x="206.1" y="385.03" font-size="5.4" textLength="51.1" lengthAdjust="spacingAndGlyphs" fill="#282828">CASSLGGGSLNYNEQFF</text>
<text x="206.1" y="390.65" font-size="5.4" textLength="41.08" lengthAdjust="spacingAndGlyphs" fill="#282828">CASSYGAASTEAFF</text>
<text x="206.1" y="396.27" font-size="5.4" textLength="46.46" lengthAdjust="spacingAndGlyphs" fill="#282828">CASSLGLALEVDTQYF</text>
<text x="206.1" y="401.89" font-size="5.4" textLength="38.14" lengthAdjust="spacingAndGlyphs" fill="#282828">CSAETYNANEAFF</text>
<text x="206.1" y="407.51" font-size="5.4" textLength="38.55" lengthAdjust="spacingAndGlyphs" fill="#282828">CSVGRALYNEQFF</text>
<text x="206.1" y="413.13" font-size="5.4" textLength="46.21" lengthAdjust="spacingAndGlyphs" fill="#282828">CASSSWGRDNSPLHF</text>
<text x="206.1" y="418.75" font-size="5.4" textLength="45.23" lengthAdjust="spacingAndGlyphs" fill="#282828">CASSSRGGKGTEAFF</text>
<text x="206.1" y="424.37" font-size="5.4" textLength="37.89" lengthAdjust="spacingAndGlyphs" fill="#282828">CASSPGGIDEQFF</text>
<text x="206.1" y="429.99" font-size="5.4" textLength="43.27" lengthAdjust="spacingAndGlyphs" fill="#282828">CASSWGRSTDTQYF</text>
<text x="206.1" y="435.61" font-size="5.4" textLength="35.94" lengthAdjust="spacingAndGlyphs" fill="#282828">CASYRSSYEQYF</text>
<text x="206.1" y="441.23" font-size="5.4" textLength="39.36" lengthAdjust="spacingAndGlyphs" fill="#282828">CASKPPDTQPQHF</text>
<text x="206.1" y="446.85" font-size="5.4" textLength="36.42" lengthAdjust="spacingAndGlyphs" fill="#282828">CASSTGGDGYTF</text>
<text x="206.1" y="452.47" font-size="5.4" textLength="39.11" lengthAdjust="spacingAndGlyphs" fill="#282828">CASSRGGNTEAFF</text>
<text x="206.1" y="458.09" font-size="5.4" textLength="45.47" lengthAdjust="spacingAndGlyphs" fill="#282828">CASQTGGPSTDTQYF</text>
<text x="206.1" y="463.71" font-size="5.4" textLength="48.41" lengthAdjust="spacingAndGlyphs" fill="#282828">CASSEEGQMLSYGYTF</text>
<text x="206.1" y="469.33" font-size="5.4" textLength="44.17" lengthAdjust="spacingAndGlyphs" fill="#282828">CATSKTGTGKSEQFF</text>
<circle cx="281.7" cy="365.8" r="15.2" fill="#5B9BD5" fill-opacity="0.78"/>
<circle cx="281.7" cy="370.87" r="11" fill="#ED7D31" fill-opacity="0.78"/>
<circle cx="281.7" cy="375.94" r="8" fill="#A5A5A5" fill-opacity="0.78"/>
<circle cx="281.7" cy="381.01" r="7.4" fill="#FFC000" fill-opacity="0.78"/>
<circle cx="281.7" cy="386.08" r="5.8" fill="#4472C4" fill-opacity="0.78"/>
<circle cx="281.7" cy="391.15" r="5.4" fill="#70AD47" fill-opacity="0.78"/>
<circle cx="281.7" cy="396.22" r="6.4" fill="#255E91" fill-opacity="0.78"/>
<circle cx="281.7" cy="401.29" r="4.9" fill="#9E480E" fill-opacity="0.78"/>
<circle cx="281.7" cy="406.36" r="4.6" fill="#636363" fill-opacity="0.78"/>
<circle cx="281.7" cy="411.43" r="5.7" fill="#997300" fill-opacity="0.78"/>
<circle cx="281.7" cy="416.5" r="3.8" fill="#264478" fill-opacity="0.78"/>
<circle cx="281.7" cy="421.57" r="6.4" fill="#43682B" fill-opacity="0.78"/>
<circle cx="281.7" cy="426.64" r="4.3" fill="#7CAFDD" fill-opacity="0.78"/>
<circle cx="281.7" cy="431.71" r="5" fill="#F1975A" fill-opacity="0.78"/>
<circle cx="281.7" cy="436.78" r="4.1" fill="#B7B7B7" fill-opacity="0.78"/>
<circle cx="281.7" cy="441.85" r="4.4" fill="#FFCD33" fill-opacity="0.78"/>
<circle cx="281.7" cy="446.92" r="2" fill="#698ED0" fill-opacity="0.78"/>
<circle cx="281.7" cy="451.99" r="3.8" fill="#8CC168" fill-opacity="0.78"/>
<circle cx="281.7" cy="457.06" r="3.8" fill="#327DC2" fill-opacity="0.78"/>
<circle cx="281.7" cy="462.13" r="3.8" fill="#D26012" fill-opacity="0.78"/>
<circle cx="309.4" cy="365.8" r="0.9" fill="#5B9BD5" fill-opacity="0.78"/>
<circle cx="309.4" cy="370.87" r="1.3" fill="#ED7D31" fill-opacity="0.78"/>
<circle cx="309.4" cy="375.94" r="1" fill="#A5A5A5" fill-opacity="0.78"/>
<circle cx="309.4" cy="381.01" r="1.3" fill="#FFC000" fill-opacity="0.78"/>
<circle cx="309.4" cy="391.15" r="0.6" fill="#70AD47" fill-opacity="0.78"/>
<circle cx="309.4" cy="401.29" r="0.6" fill="#9E480E" fill-opacity="0.78"/>
<circle cx="309.4" cy="406.36" r="0.5" fill="#636363" fill-opacity="0.78"/>
<circle cx="309.4" cy="411.43" r="0.4" fill="#997300" fill-opacity="0.78"/>
<circle cx="309.4" cy="416.5" r="0.5" fill="#264478" fill-opacity="0.78"/>
<circle cx="309.4" cy="421.57" r="0.6" fill="#43682B" fill-opacity="0.78"/>
<circle cx="309.4" cy="441.85" r="0.6" fill="#FFCD33" fill-opacity="0.78"/>
<circle cx="309.4" cy="457.06" r="0.4" fill="#327DC2" fill-opacity="0.78"/>
<circle cx="341.4" cy="365.8" r="16.2" fill="#5B9BD5" fill-opacity="0.78"/>
<circle cx="341.4" cy="370.87" r="11.7" fill="#ED7D31" fill-opacity="0.78"/>
<circle cx="341.4" cy="375.94" r="9.8" fill="#A5A5A5" fill-opacity="0.78"/>
<circle cx="341.4" cy="381.01" r="9.8" fill="#FFC000" fill-opacity="0.78"/>
<circle cx="341.4" cy="386.08" r="7.3" fill="#4472C4" fill-opacity="0.78"/>
<circle cx="341.4" cy="391.15" r="7.2" fill="#70AD47" fill-opacity="0.78"/>
<circle cx="341.4" cy="396.22" r="7.2" fill="#255E91" fill-opacity="0.78"/>
<circle cx="341.4" cy="401.29" r="6.3" fill="#9E480E" fill-opacity="0.78"/>
<circle cx="341.4" cy="406.36" r="5.9" fill="#636363" fill-opacity="0.78"/>
<circle cx="341.4" cy="411.43" r="5.8" fill="#997300" fill-opacity="0.78"/>
<circle cx="341.4" cy="416.5" r="5" fill="#264478" fill-opacity="0.78"/>
<circle cx="341.4" cy="421.57" r="4.6" fill="#43682B" fill-opacity="0.78"/>
<circle cx="341.4" cy="426.64" r="4.6" fill="#7CAFDD" fill-opacity="0.78"/>
<circle cx="341.4" cy="431.71" r="4.6" fill="#F1975A" fill-opacity="0.78"/>
<circle cx="341.4" cy="436.78" r="4.6" fill="#B7B7B7" fill-opacity="0.78"/>
<circle cx="341.4" cy="441.85" r="4.5" fill="#FFCD33" fill-opacity="0.78"/>
<circle cx="341.4" cy="446.92" r="4.5" fill="#698ED0" fill-opacity="0.78"/>
<circle cx="341.4" cy="451.99" r="4.3" fill="#8CC168" fill-opacity="0.78"/>
<circle cx="341.4" cy="457.06" r="4.3" fill="#327DC2" fill-opacity="0.78"/>
<circle cx="341.4" cy="462.13" r="4.6" fill="#D26012" fill-opacity="0.78"/>
<circle cx="375.7" cy="365.8" r="16.2" fill="#5B9BD5" fill-opacity="0.78"/>
<circle cx="375.7" cy="370.87" r="13.1" fill="#ED7D31" fill-opacity="0.78"/>
<circle cx="375.7" cy="375.94" r="10.5" fill="#A5A5A5" fill-opacity="0.78"/>
<circle cx="375.7" cy="381.01" r="11.4" fill="#FFC000" fill-opacity="0.78"/>
<circle cx="375.7" cy="386.08" r="6.4" fill="#4472C4" fill-opacity="0.78"/>
<circle cx="375.7" cy="391.15" r="7.3" fill="#70AD47" fill-opacity="0.78"/>
<circle cx="375.7" cy="401.29" r="4.8" fill="#9E480E" fill-opacity="0.78"/>
<circle cx="375.7" cy="406.36" r="5.4" fill="#636363" fill-opacity="0.78"/>
<circle cx="375.7" cy="411.43" r="5.4" fill="#997300" fill-opacity="0.78"/>
<circle cx="375.7" cy="416.5" r="5.9" fill="#264478" fill-opacity="0.78"/>
<circle cx="375.7" cy="421.57" r="3.8" fill="#43682B" fill-opacity="0.78"/>
<circle cx="375.7" cy="426.64" r="4.8" fill="#7CAFDD" fill-opacity="0.78"/>
<circle cx="375.7" cy="431.71" r="4.2" fill="#F1975A" fill-opacity="0.78"/>
<circle cx="375.7" cy="436.78" r="6" fill="#B7B7B7" fill-opacity="0.78"/>
<circle cx="375.7" cy="441.85" r="4.8" fill="#FFCD33" fill-opacity="0.78"/>
<circle cx="375.7" cy="446.92" r="3.2" fill="#698ED0" fill-opacity="0.78"/>
<circle cx="375.7" cy="451.99" r="0.8" fill="#8CC168" fill-opacity="0.78"/>
<circle cx="375.7" cy="457.06" r="3.2" fill="#327DC2" fill-opacity="0.78"/>
<circle cx="375.7" cy="462.13" r="4" fill="#D26012" fill-opacity="0.78"/>
<text x="311.2" y="346.2" font-size="7.5" textLength="38.3" lengthAdjust="spacingAndGlyphs" fill="#2c2c2c" stroke="#2c2c2c" stroke-width="0.06">#030 (GvL)</text>
<text x="283.5" y="479" font-size="7.3" text-anchor="middle" textLength="22.72" lengthAdjust="spacingAndGlyphs" fill="#2c2c2c" stroke="#2c2c2c" stroke-width="0.06">PreDLI</text>
<text x="343.8" y="479" font-size="7.3" text-anchor="middle" textLength="16.44" lengthAdjust="spacingAndGlyphs" fill="#2c2c2c" stroke="#2c2c2c" stroke-width="0.06">d+14</text>
<text x="379.8" y="479" font-size="7.3" text-anchor="middle" textLength="16.44" lengthAdjust="spacingAndGlyphs" fill="#2c2c2c" stroke="#2c2c2c" stroke-width="0.06">d+28</text>
<text x="312.5" y="474.9" font-size="7.3" text-anchor="middle" textLength="11.36" lengthAdjust="spacingAndGlyphs" fill="#2c2c2c" stroke="#2c2c2c" stroke-width="0.06">DLI</text>
<text x="312.7" y="484.3" font-size="7.3" text-anchor="middle" textLength="15.83" lengthAdjust="spacingAndGlyphs" fill="#2c2c2c" stroke="#2c2c2c" stroke-width="0.06">input</text>
<circle cx="417.7" cy="367.1" r="18.2" fill="url(#hh)" stroke="#6e6e6e" stroke-width="0.55"/>
<circle cx="417.7" cy="377.1" r="14.9" fill="url(#hd)" stroke="#4a4a4a" stroke-width="0.6"/>
<circle cx="417.7" cy="386.9" r="10.5" fill="url(#hh2)" stroke="#4a4a4a" stroke-width="0.6"/>
<circle cx="417.7" cy="397.7" r="7.43" fill="#d6d6d6" fill-opacity="0.9" stroke="#777" stroke-width="0.5"/>
<g stroke="#7a7a7a" stroke-width="0.5">
<circle cx="417.7" cy="408.4" r="3.32" fill="#dcdcdc"/>
<circle cx="417.7" cy="418.5" r="2.88" fill="#dcdcdc"/>
<circle cx="417.7" cy="428.7" r="2.35" fill="#dcdcdc"/>
<circle cx="417.7" cy="438.6" r="1.66" fill="#dcdcdc"/>
<circle cx="417.7" cy="448.3" r="1.05" fill="#dcdcdc"/>
</g>
<text x="437.2" y="368.9" font-size="5.8" textLength="17.81" lengthAdjust="spacingAndGlyphs" fill="#262626" stroke="#262626" stroke-width="0.04">30.00%</text>
<text x="434.8" y="379.3" font-size="5.8" textLength="17.81" lengthAdjust="spacingAndGlyphs" fill="#262626" stroke="#262626" stroke-width="0.04">20.00%</text>
<text x="430.7" y="390.2" font-size="5.8" textLength="17.81" lengthAdjust="spacingAndGlyphs" fill="#262626" stroke="#262626" stroke-width="0.04">10.00%</text>
<text x="427.4" y="400" font-size="5.8" textLength="14.89" lengthAdjust="spacingAndGlyphs" fill="#262626" stroke="#262626" stroke-width="0.04">5.00%</text>
<text x="424.5" y="410.2" font-size="5.8" textLength="14.89" lengthAdjust="spacingAndGlyphs" fill="#262626" stroke="#262626" stroke-width="0.04">1.00%</text>
<text x="423.4" y="420.5" font-size="5.8" textLength="14.89" lengthAdjust="spacingAndGlyphs" fill="#262626" stroke="#262626" stroke-width="0.04">0.75%</text>
<text x="423.4" y="430.7" font-size="5.8" textLength="14.89" lengthAdjust="spacingAndGlyphs" fill="#262626" stroke="#262626" stroke-width="0.04">0.50%</text>
<text x="423.4" y="440.6" font-size="5.8" textLength="14.89" lengthAdjust="spacingAndGlyphs" fill="#262626" stroke="#262626" stroke-width="0.04">0.25%</text>
<text x="421.5" y="450.3" font-size="5.8" textLength="14.89" lengthAdjust="spacingAndGlyphs" fill="#262626" stroke="#262626" stroke-width="0.04">0.10%</text>
<rect x="456.2" y="359.7" width="1.6" height="1.6" fill="#5B9BD5"/>
<rect x="456.2" y="365.33" width="1.6" height="1.6" fill="#ED7D31"/>
<rect x="456.2" y="370.96" width="1.6" height="1.6" fill="#A5A5A5"/>
<rect x="456.2" y="376.59" width="1.6" height="1.6" fill="#FFC000"/>
<rect x="456.2" y="382.22" width="1.6" height="1.6" fill="#4472C4"/>
<rect x="456.2" y="387.85" width="1.6" height="1.6" fill="#70AD47"/>
<rect x="456.2" y="393.48" width="1.6" height="1.6" fill="#255E91"/>
<rect x="456.2" y="399.11" width="1.6" height="1.6" fill="#9E480E"/>
<rect x="456.2" y="404.74" width="1.6" height="1.6" fill="#636363"/>
<rect x="456.2" y="410.37" width="1.6" height="1.6" fill="#997300"/>
<rect x="456.2" y="416" width="1.6" height="1.6" fill="#264478"/>
<rect x="456.2" y="421.63" width="1.6" height="1.6" fill="#43682B"/>
<rect x="456.2" y="427.26" width="1.6" height="1.6" fill="#7CAFDD"/>
<rect x="456.2" y="432.89" width="1.6" height="1.6" fill="#F1975A"/>
<rect x="456.2" y="438.52" width="1.6" height="1.6" fill="#B7B7B7"/>
<rect x="456.2" y="444.15" width="1.6" height="1.6" fill="#FFCD33"/>
<rect x="456.2" y="449.78" width="1.6" height="1.6" fill="#698ED0"/>
<rect x="456.2" y="455.41" width="1.6" height="1.6" fill="#8CC168"/>
<rect x="456.2" y="461.04" width="1.6" height="1.6" fill="#327DC2"/>
<rect x="456.2" y="466.67" width="1.6" height="1.6" fill="#D26012"/>
<text x="458.8" y="362.45" font-size="5.4" textLength="34.23" lengthAdjust="spacingAndGlyphs" fill="#282828">CASSALSTEAFF</text>
<text x="458.8" y="368.08" font-size="5.4" textLength="41.72" lengthAdjust="spacingAndGlyphs" fill="#282828">CATSDVRDRETQYF</text>
<text x="458.8" y="373.71" font-size="5.4" textLength="36.43" lengthAdjust="spacingAndGlyphs" fill="#282828">CASSTGGYEQYF</text>
<text x="458.8" y="379.34" font-size="5.4" textLength="45.23" lengthAdjust="spacingAndGlyphs" fill="#282828">CSARDLAAGHNEQFF</text>
<text x="458.8" y="384.97" font-size="5.4" textLength="37.81" lengthAdjust="spacingAndGlyphs" fill="#282828">CASSLGTAETQYF</text>
<text x="458.8" y="390.6" font-size="5.4" textLength="46.95" lengthAdjust="spacingAndGlyphs" fill="#282828">CASSLDLGVLGYGYTF</text>
<text x="458.8" y="396.23" font-size="5.4" textLength="39.12" lengthAdjust="spacingAndGlyphs" fill="#282828">CASSRQETYEQYF</text>
<text x="458.8" y="401.86" font-size="5.4" textLength="37.81" lengthAdjust="spacingAndGlyphs" fill="#282828">CASTPGVAPEAFF</text>
<text x="458.8" y="407.49" font-size="5.4" textLength="35.7" lengthAdjust="spacingAndGlyphs" fill="#282828">CASSSLGGDAFF</text>
<text x="458.8" y="413.12" font-size="5.4" textLength="46.45" lengthAdjust="spacingAndGlyphs" fill="#282828">CASSPWNGTGETQYF</text>
<text x="458.8" y="418.75" font-size="5.4" textLength="40.1" lengthAdjust="spacingAndGlyphs" fill="#282828">CSVPREQGHEQYF</text>
<text x="458.8" y="424.38" font-size="5.4" textLength="38.38" lengthAdjust="spacingAndGlyphs" fill="#282828">CASSHRNTGELFF</text>
<text x="458.8" y="430.01" font-size="5.4" textLength="45.47" lengthAdjust="spacingAndGlyphs" fill="#282828">CASSRAGTSGNEQFF</text>
<text x="458.8" y="435.64" font-size="5.4" textLength="44.25" lengthAdjust="spacingAndGlyphs" fill="#282828">CASSFPGQGIDKQYF</text>
<text x="458.8" y="441.27" font-size="5.4" textLength="42.3" lengthAdjust="spacingAndGlyphs" fill="#282828">CASSLERGSGEQYF</text>
<text x="458.8" y="446.9" font-size="5.4" textLength="38.63" lengthAdjust="spacingAndGlyphs" fill="#282828">CASSLSRDNEQFF</text>
<text x="458.8" y="452.53" font-size="5.4" textLength="39.36" lengthAdjust="spacingAndGlyphs" fill="#282828">CASSGQGASEAFF</text>
<text x="458.8" y="458.16" font-size="5.4" textLength="32.51" lengthAdjust="spacingAndGlyphs" fill="#282828">CASSFYNEQFF</text>
<text x="458.8" y="463.79" font-size="5.4" textLength="32.27" lengthAdjust="spacingAndGlyphs" fill="#282828">CASSQTLEQFF</text>
<text x="458.8" y="469.42" font-size="5.4" textLength="52.73" lengthAdjust="spacingAndGlyphs" fill="#282828">CASSLEGQGSATNEKLFF</text>
<line x1="53.6" y1="509.2" x2="53.6" y2="634.7" stroke="#333" stroke-width="1.1"/>
<line x1="53.1" y1="634.2" x2="116.5" y2="634.2" stroke="#333" stroke-width="1.1"/>
<line x1="51" y1="634.2" x2="53.6" y2="634.2" stroke="#333" stroke-width="0.9"/>
<text x="48.6" y="636.85" font-size="7.4" text-anchor="end" textLength="3.99" lengthAdjust="spacingAndGlyphs" fill="#1c1c1c" stroke="#1c1c1c" stroke-width="0.07">0</text>
<line x1="51" y1="603.05" x2="53.6" y2="603.05" stroke="#333" stroke-width="0.9"/>
<text x="48.6" y="605.7" font-size="7.4" text-anchor="end" textLength="7.98" lengthAdjust="spacingAndGlyphs" fill="#1c1c1c" stroke="#1c1c1c" stroke-width="0.07">20</text>
<line x1="51" y1="571.9" x2="53.6" y2="571.9" stroke="#333" stroke-width="0.9"/>
<text x="48.6" y="574.55" font-size="7.4" text-anchor="end" textLength="7.98" lengthAdjust="spacingAndGlyphs" fill="#1c1c1c" stroke="#1c1c1c" stroke-width="0.07">40</text>
<line x1="51" y1="540.75" x2="53.6" y2="540.75" stroke="#333" stroke-width="0.9"/>
<text x="48.6" y="543.4" font-size="7.4" text-anchor="end" textLength="7.98" lengthAdjust="spacingAndGlyphs" fill="#1c1c1c" stroke="#1c1c1c" stroke-width="0.07">60</text>
<line x1="51" y1="509.6" x2="53.6" y2="509.6" stroke="#333" stroke-width="0.9"/>
<text x="48.6" y="512.25" font-size="7.4" text-anchor="end" textLength="7.98" lengthAdjust="spacingAndGlyphs" fill="#1c1c1c" stroke="#1c1c1c" stroke-width="0.07">80</text>
<line x1="62" y1="634.2" x2="62" y2="636.8" stroke="#333" stroke-width="0.9"/>
<line x1="74.4" y1="634.2" x2="74.4" y2="636.8" stroke="#333" stroke-width="0.9"/>
<line x1="94.6" y1="634.2" x2="94.6" y2="636.8" stroke="#333" stroke-width="0.9"/>
<line x1="106.9" y1="634.2" x2="106.9" y2="636.8" stroke="#333" stroke-width="0.9"/>
<text x="21.7" y="571.4" font-size="8.8" text-anchor="middle" textLength="89" lengthAdjust="spacingAndGlyphs" transform="rotate(-90 21.7 571.4)" fill="#1c1c1c" stroke="#1c1c1c" stroke-width="0.2">Overlapping input clones of total</text>
<text x="32.8" y="571.9" font-size="8.8" text-anchor="middle" textLength="59" lengthAdjust="spacingAndGlyphs" transform="rotate(-90 32.8 571.9)" fill="#1c1c1c" stroke="#1c1c1c" stroke-width="0.2">CD8⁺ Repertoire (%)</text>
<line x1="61.4" y1="506.7" x2="74.8" y2="506.7" stroke="#2a2a2a" stroke-width="1"/>
<text x="68.1" y="504.7" font-size="6.6" text-anchor="middle" textLength="7.4" lengthAdjust="spacingAndGlyphs" fill="#1c1c1c" stroke="#1c1c1c" stroke-width="0.1">ns</text>
<line x1="93.5" y1="506.7" x2="107" y2="506.7" stroke="#2a2a2a" stroke-width="1"/>
<text x="100.25" y="504.7" font-size="6.6" text-anchor="middle" textLength="7.4" lengthAdjust="spacingAndGlyphs" fill="#1c1c1c" stroke="#1c1c1c" stroke-width="0.1">ns</text>
<line x1="61.8" y1="527.2" x2="74.5" y2="523.1" stroke="#17694f" stroke-width="0.75"/>
<line x1="61.8" y1="537.4" x2="74.5" y2="532.9" stroke="#17694f" stroke-width="0.75"/>
<line x1="61.8" y1="548.8" x2="74.5" y2="544" stroke="#17694f" stroke-width="0.75"/>
<line x1="61.8" y1="561.8" x2="74.5" y2="525.1" stroke="#17694f" stroke-width="0.75"/>
<line x1="61.8" y1="563.8" x2="74.5" y2="552.7" stroke="#17694f" stroke-width="0.75"/>
<line x1="61.8" y1="578.1" x2="74.5" y2="594.7" stroke="#17694f" stroke-width="0.75"/>
<line x1="61.8" y1="591.1" x2="74.5" y2="563.5" stroke="#17694f" stroke-width="0.75"/>
<line x1="61.8" y1="593.9" x2="74.5" y2="606.1" stroke="#17694f" stroke-width="0.75"/>
<line x1="61.8" y1="598.3" x2="74.5" y2="573.9" stroke="#17694f" stroke-width="0.75"/>
<line x1="61.8" y1="612.3" x2="74.5" y2="576.5" stroke="#17694f" stroke-width="0.75"/>
<line x1="61.8" y1="617.1" x2="74.5" y2="608.5" stroke="#17694f" stroke-width="0.75"/>
<line x1="61.8" y1="619.1" x2="74.5" y2="616.7" stroke="#17694f" stroke-width="0.75"/>
<line x1="61.8" y1="619.1" x2="74.5" y2="618.8" stroke="#17694f" stroke-width="0.75"/>
<line x1="61.8" y1="617.1" x2="74.5" y2="592.3" stroke="#17694f" stroke-width="0.75"/>
<circle cx="61.8" cy="527.2" r="1.75" fill="#17694f"/>
<rect x="72.8" y="521.4" width="3.4" height="3.4" fill="#17694f"/>
<circle cx="61.8" cy="537.4" r="1.75" fill="#17694f"/>
<rect x="72.8" y="531.2" width="3.4" height="3.4" fill="#17694f"/>
<circle cx="61.8" cy="548.8" r="1.75" fill="#17694f"/>
<rect x="72.8" y="542.3" width="3.4" height="3.4" fill="#17694f"/>
<circle cx="61.8" cy="561.8" r="1.75" fill="#17694f"/>
<rect x="72.8" y="523.4" width="3.4" height="3.4" fill="#17694f"/>
<circle cx="61.8" cy="563.8" r="1.75" fill="#17694f"/>
<rect x="72.8" y="551" width="3.4" height="3.4" fill="#17694f"/>
<circle cx="61.8" cy="578.1" r="1.75" fill="#17694f"/>
<rect x="72.8" y="593" width="3.4" height="3.4" fill="#17694f"/>
<circle cx="61.8" cy="591.1" r="1.75" fill="#17694f"/>
<rect x="72.8" y="561.8" width="3.4" height="3.4" fill="#17694f"/>
<circle cx="61.8" cy="593.9" r="1.75" fill="#17694f"/>
<rect x="72.8" y="604.4" width="3.4" height="3.4" fill="#17694f"/>
<circle cx="61.8" cy="598.3" r="1.75" fill="#17694f"/>
<rect x="72.8" y="572.2" width="3.4" height="3.4" fill="#17694f"/>
<circle cx="61.8" cy="612.3" r="1.75" fill="#17694f"/>
<rect x="72.8" y="574.8" width="3.4" height="3.4" fill="#17694f"/>
<circle cx="61.8" cy="617.1" r="1.75" fill="#17694f"/>
<rect x="72.8" y="606.8" width="3.4" height="3.4" fill="#17694f"/>
<circle cx="61.8" cy="619.1" r="1.75" fill="#17694f"/>
<rect x="72.8" y="615" width="3.4" height="3.4" fill="#17694f"/>
<circle cx="61.8" cy="619.1" r="1.75" fill="#17694f"/>
<rect x="72.8" y="617.1" width="3.4" height="3.4" fill="#17694f"/>
<circle cx="61.8" cy="617.1" r="1.75" fill="#17694f"/>
<rect x="72.8" y="590.6" width="3.4" height="3.4" fill="#17694f"/>
<line x1="94.5" y1="533.2" x2="107" y2="533.8" stroke="#f7931e" stroke-width="0.75"/>
<line x1="94.5" y1="551.3" x2="107" y2="560.7" stroke="#f7931e" stroke-width="0.75"/>
<line x1="94.5" y1="572.9" x2="107" y2="581" stroke="#f7931e" stroke-width="0.75"/>
<line x1="94.5" y1="575.9" x2="107" y2="583.6" stroke="#f7931e" stroke-width="0.75"/>
<line x1="94.5" y1="586.5" x2="107" y2="579" stroke="#f7931e" stroke-width="0.75"/>
<line x1="94.5" y1="594.6" x2="107" y2="596.3" stroke="#f7931e" stroke-width="0.75"/>
<line x1="94.5" y1="598" x2="107" y2="598.9" stroke="#f7931e" stroke-width="0.75"/>
<line x1="94.5" y1="598" x2="107" y2="601.1" stroke="#f7931e" stroke-width="0.75"/>
<line x1="94.5" y1="618.7" x2="107" y2="621.8" stroke="#f7931e" stroke-width="0.75"/>
<line x1="94.5" y1="620.9" x2="107" y2="617.5" stroke="#f7931e" stroke-width="0.75"/>
<line x1="94.5" y1="623.1" x2="107" y2="619.2" stroke="#f7931e" stroke-width="0.75"/>
<line x1="94.5" y1="633.7" x2="107" y2="633.7" stroke="#f7931e" stroke-width="0.75"/>
<circle cx="94.5" cy="533.2" r="1.75" fill="#f7931e"/>
<rect x="105.3" y="532.1" width="3.4" height="3.4" fill="#f7931e"/>
<circle cx="94.5" cy="551.3" r="1.75" fill="#f7931e"/>
<rect x="105.3" y="559" width="3.4" height="3.4" fill="#f7931e"/>
<circle cx="94.5" cy="572.9" r="1.75" fill="#f7931e"/>
<rect x="105.3" y="579.3" width="3.4" height="3.4" fill="#f7931e"/>
<circle cx="94.5" cy="575.9" r="1.75" fill="#f7931e"/>
<rect x="105.3" y="581.9" width="3.4" height="3.4" fill="#f7931e"/>
<circle cx="94.5" cy="586.5" r="1.75" fill="#f7931e"/>
<rect x="105.3" y="577.3" width="3.4" height="3.4" fill="#f7931e"/>
<circle cx="94.5" cy="594.6" r="1.75" fill="#f7931e"/>
<rect x="105.3" y="594.6" width="3.4" height="3.4" fill="#f7931e"/>
<circle cx="94.5" cy="598" r="1.75" fill="#f7931e"/>
<rect x="105.3" y="597.2" width="3.4" height="3.4" fill="#f7931e"/>
<circle cx="94.5" cy="598" r="1.75" fill="#f7931e"/>
<rect x="105.3" y="599.4" width="3.4" height="3.4" fill="#f7931e"/>
<circle cx="94.5" cy="618.7" r="1.75" fill="#f7931e"/>
<rect x="105.3" y="620.1" width="3.4" height="3.4" fill="#f7931e"/>
<circle cx="94.5" cy="620.9" r="1.75" fill="#f7931e"/>
<rect x="105.3" y="615.8" width="3.4" height="3.4" fill="#f7931e"/>
<circle cx="94.5" cy="623.1" r="1.75" fill="#f7931e"/>
<rect x="105.3" y="617.5" width="3.4" height="3.4" fill="#f7931e"/>
<circle cx="94.5" cy="633.7" r="1.75" fill="#f7931e"/>
<rect x="105.3" y="632" width="3.4" height="3.4" fill="#f7931e"/>
<text x="63" y="640.6" font-size="7.6" text-anchor="end" textLength="27.5" lengthAdjust="spacingAndGlyphs" transform="rotate(-45 63 640.6)" fill="#1c1c1c" stroke="#1c1c1c" stroke-width="0.03">Pre-GvL</text>
<text x="75.5" y="640.6" font-size="7.6" text-anchor="end" textLength="13.8" lengthAdjust="spacingAndGlyphs" transform="rotate(-45 75.5 640.6)" fill="#1c1c1c" stroke="#1c1c1c" stroke-width="0.03">GvL</text>
<text x="95.8" y="640.6" font-size="7.6" text-anchor="end" textLength="36.5" lengthAdjust="spacingAndGlyphs" transform="rotate(-45 95.8 640.6)" fill="#1c1c1c" stroke="#1c1c1c" stroke-width="0.03">Pre-noGvL</text>
<text x="108.9" y="640.6" font-size="7.6" text-anchor="end" textLength="23" lengthAdjust="spacingAndGlyphs" transform="rotate(-45 108.9 640.6)" fill="#1c1c1c" stroke="#1c1c1c" stroke-width="0.03">noGvL</text>
<line x1="226.7" y1="507.8" x2="226.7" y2="632.7" stroke="#333" stroke-width="1.1"/>
<line x1="226.2" y1="632.2" x2="288.5" y2="632.2" stroke="#333" stroke-width="1.1"/>
<line x1="224.1" y1="508.3" x2="226.7" y2="508.3" stroke="#333" stroke-width="0.9"/>
<text x="221.6" y="510.95" font-size="7.4" text-anchor="end" textLength="7.98" lengthAdjust="spacingAndGlyphs" fill="#1c1c1c" stroke="#1c1c1c" stroke-width="0.07">30</text>
<line x1="224.1" y1="533.08" x2="226.7" y2="533.08" stroke="#333" stroke-width="0.9"/>
<text x="221.6" y="535.73" font-size="7.4" text-anchor="end" textLength="7.98" lengthAdjust="spacingAndGlyphs" fill="#1c1c1c" stroke="#1c1c1c" stroke-width="0.07">20</text>
<line x1="224.1" y1="557.86" x2="226.7" y2="557.86" stroke="#333" stroke-width="0.9"/>
<text x="221.6" y="560.51" font-size="7.4" text-anchor="end" textLength="7.98" lengthAdjust="spacingAndGlyphs" fill="#1c1c1c" stroke="#1c1c1c" stroke-width="0.07">10</text>
<line x1="224.1" y1="582.64" x2="226.7" y2="582.64" stroke="#333" stroke-width="0.9"/>
<text x="221.6" y="585.29" font-size="7.4" text-anchor="end" textLength="3.99" lengthAdjust="spacingAndGlyphs" fill="#1c1c1c" stroke="#1c1c1c" stroke-width="0.07">0</text>
<line x1="224.1" y1="607.42" x2="226.7" y2="607.42" stroke="#333" stroke-width="0.9"/>
<text x="221.6" y="610.07" font-size="7.4" text-anchor="end" textLength="12.18" lengthAdjust="spacingAndGlyphs" fill="#1c1c1c" stroke="#1c1c1c" stroke-width="0.07">−10</text>
<line x1="224.1" y1="632.2" x2="226.7" y2="632.2" stroke="#333" stroke-width="0.9"/>
<text x="221.6" y="634.85" font-size="7.4" text-anchor="end" textLength="12.18" lengthAdjust="spacingAndGlyphs" fill="#1c1c1c" stroke="#1c1c1c" stroke-width="0.07">−20</text>
<line x1="244.4" y1="632.2" x2="244.4" y2="634.8" stroke="#333" stroke-width="0.9"/>
<line x1="270.4" y1="632.2" x2="270.4" y2="634.8" stroke="#333" stroke-width="0.9"/>
<text x="244.4" y="644.3" font-size="7" text-anchor="middle" textLength="13" lengthAdjust="spacingAndGlyphs" fill="#1c1c1c" stroke="#1c1c1c" stroke-width="0.05">GvL</text>
<text x="270.8" y="644.3" font-size="7" text-anchor="middle" textLength="21.5" lengthAdjust="spacingAndGlyphs" fill="#1c1c1c" stroke="#1c1c1c" stroke-width="0.05">noGvL</text>
<line x1="226.7" y1="582.5" x2="295" y2="582.5" stroke="#333" stroke-width="0.8" stroke-dasharray="1.1 1.1"/>
<text x="194" y="567.8" font-size="8.8" text-anchor="middle" textLength="90" lengthAdjust="spacingAndGlyphs" transform="rotate(-90 194 567.8)" fill="#1c1c1c" stroke="#1c1c1c" stroke-width="0.2">Δ Overlapping input clones of total</text>
<text x="205.9" y="572.75" font-size="8.8" text-anchor="middle" textLength="66.7" lengthAdjust="spacingAndGlyphs" transform="rotate(-90 205.9 572.75)" fill="#1c1c1c" stroke="#1c1c1c" stroke-width="0.2">CD8⁺ Repertoire (%)</text>
<line x1="244.5" y1="504.5" x2="270.4" y2="504.5" stroke="#2a2a2a" stroke-width="1"/>
<polygon points="257.45,499.5 257.95,500.51 259.07,500.67 258.26,501.46 258.45,502.58 257.45,502.05 256.45,502.58 256.64,501.46 255.83,500.67 256.95,500.51" fill="#1a1a1a"/>
<path d="M241.6 525.06L243.55 528.57L239.65 528.57Z" fill="#17694f"/>
<path d="M244.5 523.96L246.45 527.47L242.55 527.47Z" fill="#17694f"/>
<path d="M247.6 530.16L249.55 533.67L245.65 533.67Z" fill="#17694f"/>
<path d="M241.6 563.46L243.55 566.97L239.65 566.97Z" fill="#17694f"/>
<path d="M247.6 562.06L249.55 565.57L245.65 565.57Z" fill="#17694f"/>
<path d="M238.3 573.86L240.25 577.37L236.35 577.37Z" fill="#17694f"/>
<path d="M241.6 574.96L243.55 578.47L239.65 578.47Z" fill="#17694f"/>
<path d="M244.9 575.36L246.85 578.87L242.95 578.87Z" fill="#17694f"/>
<path d="M250 572.76L251.95 576.27L248.05 576.27Z" fill="#17694f"/>
<path d="M247.1 576.06L249.05 579.57L245.15 579.57Z" fill="#17694f"/>
<path d="M241.6 584.26L243.55 587.77L239.65 587.77Z" fill="#17694f"/>
<path d="M244.5 604.46L246.45 607.97L242.55 607.97Z" fill="#17694f"/>
<path d="M244.5 625.96L246.45 629.47L242.55 629.47Z" fill="#17694f"/>
<path d="M247.8 578.26L249.75 581.77L245.85 581.77Z" fill="#17694f"/>
<path d="M267.7 575.36L269.65 578.87L265.75 578.87Z" fill="#f7931e"/>
<path d="M273.1 575.36L275.05 578.87L271.15 578.87Z" fill="#f7931e"/>
<path d="M264.9 579.36L266.85 582.87L262.95 582.87Z" fill="#f7931e"/>
<path d="M275.9 580.46L277.85 583.97L273.95 583.97Z" fill="#f7931e"/>
<path d="M270 581.56L271.95 585.07L268.05 585.07Z" fill="#f7931e"/>
<path d="M266.4 583.86L268.35 587.37L264.45 587.37Z" fill="#f7931e"/>
<path d="M273.7 583.86L275.65 587.37L271.75 587.37Z" fill="#f7931e"/>
<path d="M268.2 588.26L270.15 591.77L266.25 591.77Z" fill="#f7931e"/>
<path d="M273.7 588.66L275.65 592.17L271.75 592.17Z" fill="#f7931e"/>
<path d="M270.8 595.36L272.75 598.87L268.85 598.87Z" fill="#f7931e"/>
<line x1="244.5" y1="555.9" x2="244.5" y2="583" stroke="#262626" stroke-width="1"/>
<line x1="235.3" y1="576.3" x2="253.7" y2="576.3" stroke="#262626" stroke-width="1.2"/>
<line x1="240.7" y1="555.9" x2="248.3" y2="555.9" stroke="#262626" stroke-width="1"/>
<line x1="240.7" y1="583" x2="248.3" y2="583" stroke="#262626" stroke-width="1"/>
<line x1="270.5" y1="578.8" x2="270.5" y2="589.8" stroke="#262626" stroke-width="1"/>
<line x1="261.95" y1="585.9" x2="279.05" y2="585.9" stroke="#262626" stroke-width="1.2"/>
<line x1="266.8" y1="578.8" x2="274.2" y2="578.8" stroke="#262626" stroke-width="1"/>
<line x1="266.8" y1="589.8" x2="274.2" y2="589.8" stroke="#262626" stroke-width="1"/>
<line x1="392.2" y1="510" x2="392.2" y2="533.1" stroke="#333" stroke-width="1.1"/>
<line x1="388.4" y1="533.1" x2="392.7" y2="533.1" stroke="#333" stroke-width="1.1"/>
<line x1="388.4" y1="542.6" x2="392.7" y2="542.6" stroke="#333" stroke-width="1.1"/>
<line x1="392.2" y1="542.6" x2="392.2" y2="635.6" stroke="#333" stroke-width="1.1"/>
<line x1="391.7" y1="635.1" x2="454.2" y2="635.1" stroke="#333" stroke-width="1.1"/>
<line x1="389.6" y1="510.5" x2="392.2" y2="510.5" stroke="#333" stroke-width="0.9"/>
<text x="386.7" y="513.15" font-size="7.4" text-anchor="end" textLength="7.98" lengthAdjust="spacingAndGlyphs" fill="#1c1c1c" stroke="#1c1c1c" stroke-width="0.07">15</text>
<line x1="389.6" y1="524.9" x2="392.2" y2="524.9" stroke="#333" stroke-width="0.9"/>
<text x="386.7" y="527.55" font-size="7.4" text-anchor="end" textLength="7.98" lengthAdjust="spacingAndGlyphs" fill="#1c1c1c" stroke="#1c1c1c" stroke-width="0.07">10</text>
<line x1="389.6" y1="623.1" x2="392.2" y2="623.1" stroke="#333" stroke-width="0.9"/>
<text x="386.7" y="625.75" font-size="7.4" text-anchor="end" textLength="3.99" lengthAdjust="spacingAndGlyphs" fill="#1c1c1c" stroke="#1c1c1c" stroke-width="0.07">0</text>
<line x1="389.6" y1="600.2" x2="392.2" y2="600.2" stroke="#333" stroke-width="0.9"/>
<text x="386.7" y="602.85" font-size="7.4" text-anchor="end" textLength="3.99" lengthAdjust="spacingAndGlyphs" fill="#1c1c1c" stroke="#1c1c1c" stroke-width="0.07">2</text>
<line x1="389.6" y1="577.3" x2="392.2" y2="577.3" stroke="#333" stroke-width="0.9"/>
<text x="386.7" y="579.95" font-size="7.4" text-anchor="end" textLength="3.99" lengthAdjust="spacingAndGlyphs" fill="#1c1c1c" stroke="#1c1c1c" stroke-width="0.07">4</text>
<line x1="389.6" y1="554.4" x2="392.2" y2="554.4" stroke="#333" stroke-width="0.9"/>
<text x="386.7" y="557.05" font-size="7.4" text-anchor="end" textLength="3.99" lengthAdjust="spacingAndGlyphs" fill="#1c1c1c" stroke="#1c1c1c" stroke-width="0.07">6</text>
<line x1="409.9" y1="635.1" x2="409.9" y2="637.7" stroke="#333" stroke-width="0.9"/>
<line x1="436.1" y1="635.1" x2="436.1" y2="637.7" stroke="#333" stroke-width="0.9"/>
<text x="409.9" y="646.9" font-size="7" text-anchor="middle" textLength="13" lengthAdjust="spacingAndGlyphs" fill="#1c1c1c" stroke="#1c1c1c" stroke-width="0.05">GvL</text>
<text x="436.5" y="646.9" font-size="7" text-anchor="middle" textLength="21.5" lengthAdjust="spacingAndGlyphs" fill="#1c1c1c" stroke="#1c1c1c" stroke-width="0.05">noGvL</text>
<line x1="392.2" y1="623.1" x2="455.3" y2="623.1" stroke="#333" stroke-width="0.8" stroke-dasharray="1.1 1.1"/>
<text x="358.6" y="572.2" font-size="8.8" text-anchor="middle" textLength="74.4" lengthAdjust="spacingAndGlyphs" transform="rotate(-90 358.6 572.2)" fill="#1c1c1c" stroke="#1c1c1c" stroke-width="0.2">Δ New DLI clones of total</text>
<text x="369.7" y="573.35" font-size="8.8" text-anchor="middle" textLength="58.9" lengthAdjust="spacingAndGlyphs" transform="rotate(-90 369.7 573.35)" fill="#1c1c1c" stroke="#1c1c1c" stroke-width="0.2">CD8⁺ Repertoire (%)</text>
<line x1="409.9" y1="507.2" x2="436.1" y2="507.2" stroke="#2a2a2a" stroke-width="1"/>
<text x="423" y="505.2" font-size="6.6" text-anchor="middle" textLength="7.4" lengthAdjust="spacingAndGlyphs" fill="#1c1c1c" stroke="#1c1c1c" stroke-width="0.1">ns</text>
<path d="M409.9 546.16L411.85 549.67L407.95 549.67Z" fill="#17694f"/>
<path d="M409.9 574.56L411.85 578.07L407.95 578.07Z" fill="#17694f"/>
<path d="M409.9 602.26L411.85 605.77L407.95 605.77Z" fill="#17694f"/>
<path d="M409.9 614.36L411.85 617.87L407.95 617.87Z" fill="#17694f"/>
<path d="M404.4 618.86L406.35 622.37L402.45 622.37Z" fill="#17694f"/>
<path d="M407.7 619.76L409.65 623.27L405.75 623.27Z" fill="#17694f"/>
<path d="M413.2 619.76L415.15 623.27L411.25 623.27Z" fill="#17694f"/>
<path d="M416.6 618.86L418.55 622.37L414.65 622.37Z" fill="#17694f"/>
<path d="M410.6 620.36L412.55 623.87L408.65 623.87Z" fill="#17694f"/>
<path d="M412.6 623.66L414.55 627.17L410.65 627.17Z" fill="#17694f"/>
<path d="M407 628.16L408.95 631.67L405.05 631.67Z" fill="#17694f"/>
<path d="M403.5 620.46L405.45 623.97L401.55 623.97Z" fill="#17694f"/>
<path d="M436.1 509.56L438.05 513.07L434.15 513.07Z" fill="#f7931e"/>
<path d="M438.7 596.66L440.65 600.17L436.75 600.17Z" fill="#f7931e"/>
<path d="M433.2 602.66L435.15 606.17L431.25 606.17Z" fill="#f7931e"/>
<path d="M436.1 613.76L438.05 617.27L434.15 617.27Z" fill="#f7931e"/>
<path d="M430.5 615.96L432.45 619.47L428.55 619.47Z" fill="#f7931e"/>
<path d="M438.1 617.06L440.05 620.57L436.15 620.57Z" fill="#f7931e"/>
<path d="M442 617.46L443.95 620.97L440.05 620.97Z" fill="#f7931e"/>
<path d="M432.7 620.36L434.65 623.87L430.75 623.87Z" fill="#f7931e"/>
<path d="M437.2 621.06L439.15 624.57L435.25 624.57Z" fill="#f7931e"/>
<path d="M434.3 621.46L436.25 624.97L432.35 624.97Z" fill="#f7931e"/>
<line x1="409.5" y1="612.5" x2="409.5" y2="622.4" stroke="#262626" stroke-width="1"/>
<line x1="400.6" y1="620.9" x2="418.4" y2="620.9" stroke="#262626" stroke-width="1.2"/>
<line x1="404.6" y1="612.5" x2="414.4" y2="612.5" stroke="#262626" stroke-width="1"/>
<line x1="404.6" y1="622.4" x2="414.4" y2="622.4" stroke="#262626" stroke-width="1"/>
<line x1="436.5" y1="603.6" x2="436.5" y2="622.4" stroke="#262626" stroke-width="1"/>
<line x1="427.95" y1="619.1" x2="445.05" y2="619.1" stroke="#262626" stroke-width="1.2"/>
<line x1="432.4" y1="603.6" x2="440.6" y2="603.6" stroke="#262626" stroke-width="1"/>
<line x1="432.4" y1="622.4" x2="440.6" y2="622.4" stroke="#262626" stroke-width="1"/>
<rect x="0.55" y="0.55" width="518.9" height="674.9" fill="none" stroke="#191414" stroke-width="1.1"/>
</svg>
</body></html>
